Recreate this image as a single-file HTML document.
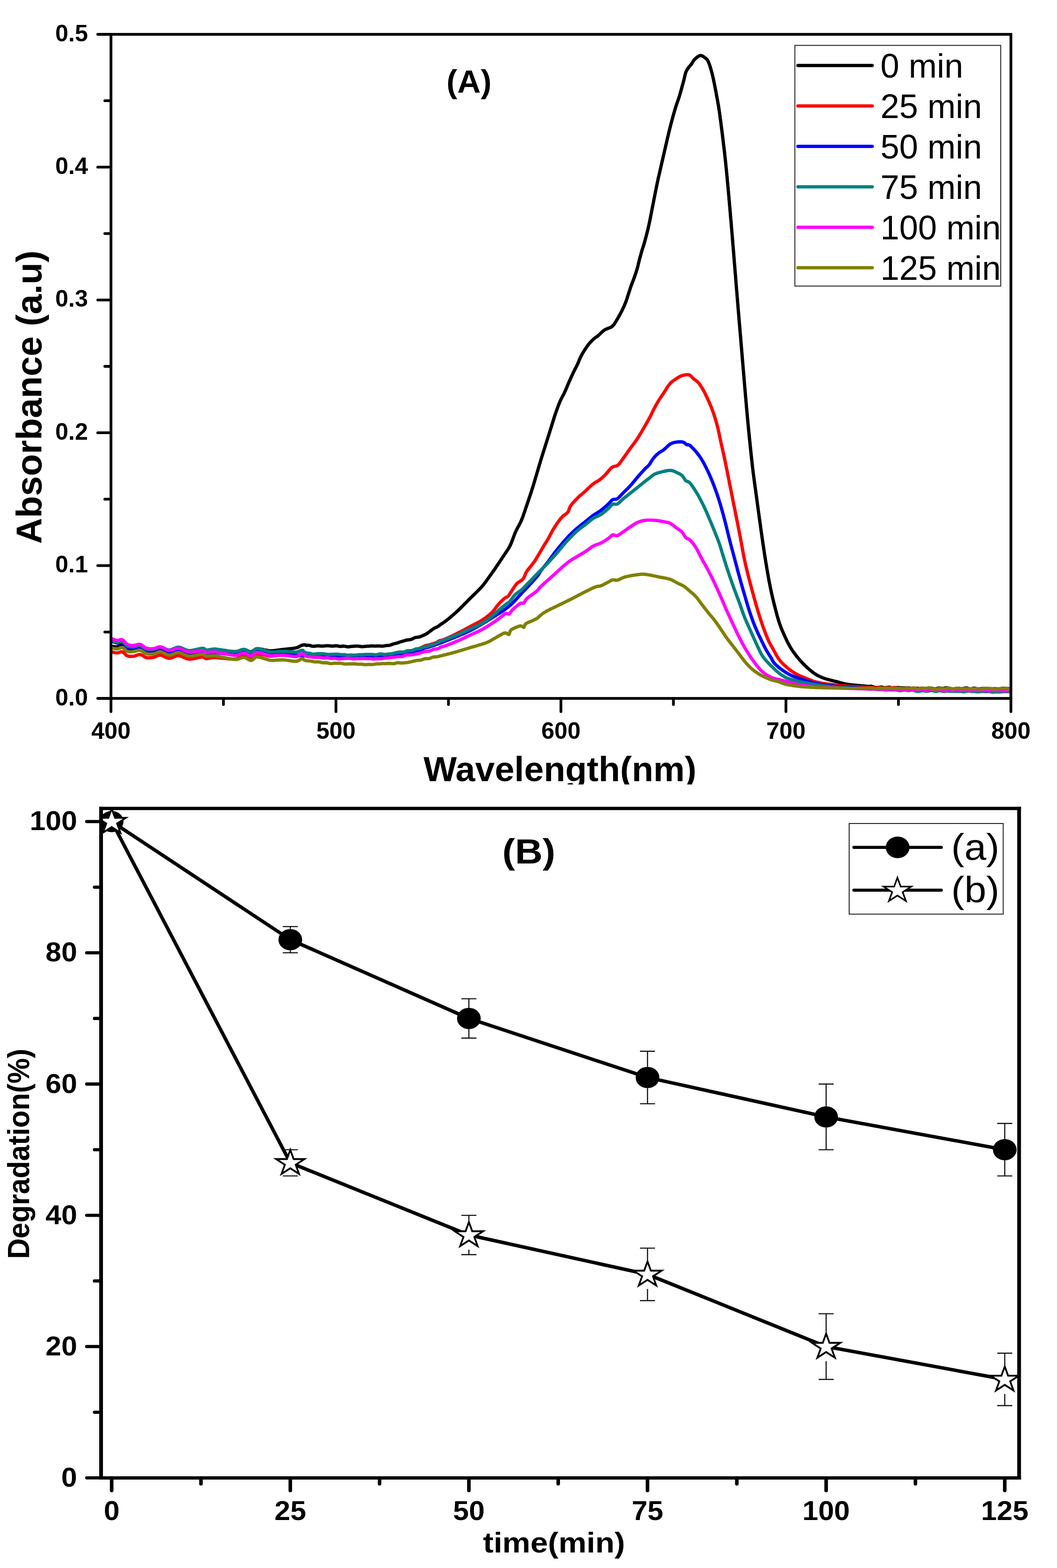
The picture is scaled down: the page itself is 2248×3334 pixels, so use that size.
<!DOCTYPE html><html><head><meta charset="utf-8"><style>html,body{margin:0;padding:0;background:#fff;}svg{display:block;}</style></head><body>
<svg width="2248" height="3334" viewBox="0 0 2248 3334" font-family="'Liberation Sans', Arial, sans-serif">
<rect width="2248" height="3334" fill="#fff"/>
<defs><clipPath id="ca"><rect x="236.0" y="73.0" width="1914.0" height="1412.0"/></clipPath>
<clipPath id="cb"><rect x="215.0" y="1719.0" width="1952.4" height="1423.5"/></clipPath>
<clipPath id="cxl"><rect x="0" y="1590" width="2248" height="78"/></clipPath></defs>
<g clip-path="url(#ca)" fill="none" stroke-width="7" stroke-linejoin="round" stroke-linecap="round">
<path stroke="#000000" d="M236.0,1374.3 L237.8,1374.5 L240.4,1374.8 L243.3,1375.1 L246.3,1375.2 L249.0,1375.2 L251.9,1374.4 L254.6,1373.2 L257.3,1372.2 L260.0,1372.1 L262.2,1372.9 L264.3,1374.5 L266.5,1376.2 L268.7,1377.9 L271.0,1379.1 L273.5,1379.7 L276.0,1380.0 L278.6,1380.1 L281.3,1380.0 L284.0,1379.8 L286.7,1379.3 L289.5,1378.5 L292.4,1377.6 L295.2,1377.0 L298.0,1376.9 L300.8,1377.5 L303.5,1378.7 L306.3,1380.0 L309.1,1381.3 L312.0,1382.0 L314.6,1382.2 L317.3,1382.1 L320.1,1381.9 L322.8,1381.6 L325.5,1381.1 L328.0,1380.7 L330.7,1380.0 L333.1,1379.0 L335.5,1378.0 L338.1,1377.2 L341.0,1377.0 L343.4,1377.4 L346.0,1378.2 L348.7,1379.2 L351.5,1380.3 L354.3,1381.4 L357.2,1382.1 L360.0,1382.5 L362.4,1382.3 L364.9,1381.8 L367.3,1381.0 L369.8,1380.2 L372.3,1379.3 L374.8,1378.6 L377.4,1378.1 L380.0,1377.9 L382.3,1378.2 L384.6,1378.7 L386.9,1379.5 L389.3,1380.3 L391.6,1381.2 L394.1,1382.1 L396.6,1382.9 L399.2,1383.5 L402.0,1383.7 L404.5,1383.7 L407.1,1383.6 L410.0,1383.2 L413.0,1382.8 L415.9,1382.3 L418.9,1381.8 L421.8,1381.3 L424.5,1380.9 L427.0,1380.5 L429.2,1380.2 L431.0,1380.1 L434.6,1380.8 L435.7,1382.2 L438.0,1383.1 L440.3,1383.0 L443.1,1382.8 L446.1,1382.4 L449.3,1382.0 L452.3,1381.7 L455.0,1381.5 L457.6,1381.5 L459.6,1381.7 L461.6,1381.9 L464.2,1382.2 L468.0,1382.6 L470.0,1382.9 L472.4,1383.1 L475.0,1383.5 L477.7,1383.8 L480.6,1384.2 L483.6,1384.6 L486.6,1384.9 L489.6,1385.2 L492.5,1385.5 L495.2,1385.7 L497.7,1385.8 L500.0,1385.8 L503.4,1385.5 L506.5,1384.8 L509.3,1384.0 L511.8,1383.1 L514.2,1382.2 L516.6,1381.6 L519.0,1381.4 L521.8,1381.7 L524.4,1382.6 L526.9,1383.8 L529.4,1384.9 L531.7,1385.7 L534.0,1385.9 L536.5,1385.1 L538.7,1383.6 L540.9,1381.9 L543.3,1380.3 L546.0,1379.4 L548.3,1379.3 L550.9,1379.5 L553.6,1379.9 L556.3,1380.5 L559.0,1381.0 L561.6,1381.6 L564.0,1382.0 L566.7,1382.5 L569.0,1383.0 L571.2,1383.4 L573.7,1383.7 L577.0,1383.7 L579.0,1383.7 L581.2,1383.5 L583.5,1383.3 L586.0,1383.0 L588.6,1382.7 L591.2,1382.3 L593.9,1382.0 L596.6,1381.6 L599.3,1381.3 L602.0,1381.0 L604.5,1380.7 L607.1,1380.4 L609.8,1380.1 L612.5,1379.9 L615.2,1379.6 L617.9,1379.3 L620.6,1379.0 L623.2,1378.7 L625.6,1378.3 L627.9,1377.9 L630.0,1377.5 L633.2,1376.5 L635.7,1375.3 L637.9,1374.0 L640.1,1372.8 L642.5,1371.8 L645.5,1371.2 L647.5,1371.1 L649.6,1371.2 L651.6,1372.4 L653.8,1372.1 L656.0,1372.0 L658.5,1372.4 L661.2,1373.2 L664.1,1374.1 L667.4,1374.3 L671.0,1373.8 L673.0,1373.5 L675.1,1373.3 L677.3,1373.3 L679.6,1373.5 L682.0,1373.7 L684.4,1373.8 L687.0,1373.7 L689.6,1373.6 L692.2,1373.3 L694.9,1373.1 L697.6,1373.0 L700.4,1373.2 L703.1,1373.5 L705.9,1373.8 L708.7,1373.8 L711.4,1373.4 L714.1,1373.1 L716.8,1373.2 L719.4,1373.8 L722.0,1374.2 L724.5,1374.4 L727.1,1374.1 L729.6,1373.8 L732.2,1373.9 L734.7,1374.4 L737.3,1375.0 L739.8,1375.3 L742.4,1375.2 L744.9,1374.8 L747.5,1374.4 L750.0,1374.2 L752.6,1374.1 L755.1,1374.0 L757.7,1373.8 L760.2,1373.7 L762.8,1373.9 L765.3,1374.3 L767.9,1374.8 L770.4,1375.0 L773.0,1374.8 L775.6,1374.5 L778.2,1374.3 L780.8,1374.1 L783.4,1374.0 L786.1,1373.8 L788.7,1373.5 L791.4,1373.4 L794.1,1373.5 L796.7,1373.7 L799.4,1373.7 L802.0,1373.6 L804.6,1373.5 L807.2,1373.5 L809.7,1373.7 L812.2,1373.9 L814.7,1373.8 L817.1,1373.4 L819.5,1373.0 L821.8,1372.6 L824.1,1372.4 L827.0,1372.2 L829.8,1371.7 L832.6,1370.8 L835.2,1369.7 L837.8,1368.9 L840.3,1368.3 L842.8,1367.7 L845.3,1367.1 L847.7,1366.2 L850.1,1365.3 L852.5,1364.5 L854.9,1363.8 L857.3,1363.2 L859.8,1362.5 L862.3,1361.7 L864.9,1361.0 L867.5,1360.6 L870.1,1360.4 L872.7,1360.0 L875.4,1359.2 L878.0,1357.9 L880.7,1356.5 L883.3,1355.5 L885.9,1355.1 L888.4,1354.9 L890.9,1354.6 L893.3,1353.9 L895.6,1353.0 L897.9,1352.1 L900.0,1351.1 L902.7,1350.0 L905.3,1348.7 L907.7,1347.3 L910.0,1345.8 L912.2,1344.1 L914.3,1342.5 L916.4,1340.9 L918.5,1339.3 L920.6,1337.7 L922.7,1336.3 L924.9,1335.1 L927.2,1334.1 L929.4,1333.1 L931.7,1331.9 L933.9,1330.4 L936.2,1328.6 L938.4,1326.6 L940.7,1325.6 L942.9,1324.0 L945.2,1322.4 L947.4,1320.8 L949.7,1319.1 L951.6,1317.6 L953.5,1316.1 L955.4,1314.5 L957.4,1313.0 L959.3,1311.3 L961.2,1309.7 L963.1,1308.0 L965.0,1306.3 L966.9,1304.6 L968.9,1302.9 L970.8,1301.1 L972.7,1299.4 L974.6,1297.6 L976.4,1295.9 L978.2,1294.2 L979.9,1292.5 L981.7,1290.7 L983.5,1289.0 L985.3,1287.2 L987.0,1285.4 L988.8,1283.5 L990.6,1281.7 L992.4,1279.9 L994.2,1278.1 L995.9,1276.3 L997.7,1274.5 L999.5,1272.7 L1001.3,1270.9 L1003.1,1269.2 L1004.9,1267.4 L1006.8,1265.6 L1008.6,1263.9 L1010.4,1262.1 L1012.3,1260.4 L1014.1,1258.6 L1015.9,1256.8 L1017.7,1255.0 L1019.4,1253.2 L1021.1,1251.4 L1022.8,1249.6 L1024.4,1247.8 L1026.1,1245.8 L1027.8,1243.8 L1029.4,1241.7 L1031.1,1239.6 L1032.6,1237.5 L1034.2,1235.4 L1035.7,1233.3 L1037.2,1231.2 L1038.7,1229.1 L1040.2,1227.1 L1041.6,1225.1 L1042.9,1223.2 L1044.3,1221.3 L1046.0,1218.9 L1047.6,1216.6 L1049.2,1214.4 L1050.7,1212.2 L1052.2,1210.1 L1053.6,1208.0 L1055.0,1205.9 L1056.4,1203.8 L1057.8,1201.8 L1059.2,1199.7 L1060.7,1197.4 L1062.3,1195.2 L1063.8,1192.9 L1065.2,1190.7 L1066.7,1188.5 L1068.1,1186.4 L1069.5,1184.2 L1071.0,1182.0 L1072.4,1179.8 L1073.8,1177.7 L1075.2,1175.6 L1076.7,1173.6 L1078.1,1171.5 L1079.5,1169.5 L1080.8,1167.3 L1082.2,1165.1 L1083.6,1162.7 L1084.9,1160.1 L1085.9,1158.0 L1086.8,1155.8 L1087.8,1153.5 L1088.7,1151.1 L1089.6,1148.7 L1090.6,1146.2 L1091.5,1143.6 L1092.4,1141.1 L1093.4,1138.6 L1094.3,1136.1 L1095.3,1133.7 L1096.3,1131.4 L1097.4,1128.9 L1098.6,1126.6 L1099.8,1124.3 L1101.0,1122.0 L1102.2,1119.7 L1103.5,1117.4 L1104.7,1115.1 L1105.9,1112.7 L1107.1,1110.3 L1108.3,1107.8 L1109.4,1105.2 L1110.3,1102.9 L1111.3,1100.5 L1112.2,1098.1 L1113.1,1095.7 L1113.9,1093.2 L1114.8,1090.6 L1115.7,1088.1 L1116.6,1085.5 L1117.4,1082.9 L1118.3,1080.3 L1119.2,1077.7 L1120.0,1075.1 L1120.9,1072.5 L1121.7,1070.1 L1122.5,1067.7 L1123.4,1065.2 L1124.2,1062.8 L1125.0,1060.3 L1125.9,1057.8 L1126.7,1055.4 L1127.5,1052.9 L1128.4,1050.4 L1129.2,1047.9 L1130.0,1045.5 L1130.8,1043.0 L1131.5,1040.6 L1132.3,1038.2 L1133.1,1035.6 L1133.9,1033.1 L1134.7,1030.5 L1135.4,1028.0 L1136.2,1025.5 L1136.9,1023.0 L1137.7,1020.5 L1138.4,1018.0 L1139.1,1015.5 L1139.9,1013.0 L1140.6,1010.5 L1141.4,1008.0 L1142.1,1005.5 L1142.9,1003.0 L1143.6,1000.5 L1144.4,997.9 L1145.1,995.4 L1145.9,992.8 L1146.6,990.3 L1147.4,987.8 L1148.1,985.3 L1148.9,982.7 L1149.6,980.2 L1150.4,977.7 L1151.1,975.3 L1151.9,972.8 L1152.7,970.4 L1153.4,967.9 L1154.2,965.5 L1154.9,963.1 L1155.7,960.8 L1156.4,958.4 L1157.2,956.0 L1157.9,953.7 L1158.7,951.3 L1159.4,948.9 L1160.2,946.6 L1160.9,944.2 L1161.7,941.8 L1162.5,939.4 L1163.2,937.0 L1164.0,934.6 L1164.7,932.2 L1165.5,929.8 L1166.2,927.4 L1167.0,925.1 L1167.7,922.7 L1168.5,920.3 L1169.2,917.9 L1170.0,915.5 L1170.7,913.1 L1171.5,910.7 L1172.3,908.3 L1173.0,905.9 L1173.8,903.4 L1174.5,901.0 L1175.3,898.6 L1176.0,896.1 L1176.8,893.7 L1177.5,891.3 L1178.3,888.9 L1179.0,886.5 L1179.8,884.2 L1180.5,881.9 L1181.3,879.7 L1182.2,877.1 L1183.1,874.6 L1184.0,872.0 L1184.9,869.5 L1185.8,867.1 L1186.6,864.7 L1187.5,862.3 L1188.4,860.0 L1189.3,857.8 L1190.2,855.6 L1191.1,853.5 L1192.3,850.8 L1193.5,848.2 L1194.8,845.8 L1196.0,843.5 L1197.2,841.2 L1198.5,838.9 L1199.7,836.5 L1200.9,833.9 L1202.0,831.5 L1203.1,829.0 L1204.2,826.5 L1205.3,823.9 L1206.3,821.3 L1207.4,818.7 L1208.5,816.1 L1209.6,813.6 L1210.7,811.1 L1211.8,808.6 L1212.9,806.1 L1214.1,803.6 L1215.2,801.2 L1216.3,798.7 L1217.4,796.4 L1218.5,794.1 L1219.5,791.9 L1220.5,789.8 L1221.9,787.0 L1223.1,784.6 L1224.3,782.3 L1225.5,780.0 L1226.7,777.7 L1228.0,775.0 L1229.0,772.8 L1230.0,770.5 L1231.0,768.1 L1232.0,765.7 L1233.1,763.2 L1234.2,760.6 L1235.4,758.1 L1236.7,755.6 L1237.9,753.3 L1239.3,751.0 L1240.7,748.6 L1242.1,746.3 L1243.6,743.9 L1245.1,741.6 L1246.6,739.3 L1248.1,737.2 L1249.5,735.2 L1251.3,732.8 L1253.2,730.5 L1255.1,728.4 L1256.9,726.4 L1258.8,724.6 L1260.5,722.8 L1262.2,721.2 L1264.4,719.3 L1266.3,717.8 L1268.3,716.6 L1270.2,715.2 L1272.4,713.5 L1274.3,711.8 L1276.3,709.8 L1278.4,707.8 L1280.5,705.7 L1282.8,703.8 L1285.2,702.0 L1287.4,700.7 L1289.9,699.6 L1292.5,698.6 L1295.1,697.6 L1297.6,696.6 L1299.9,695.4 L1302.0,693.9 L1303.8,692.2 L1305.4,690.4 L1306.8,688.4 L1308.2,686.3 L1309.5,684.2 L1310.8,681.9 L1312.2,679.6 L1313.5,677.5 L1314.8,675.3 L1316.1,673.0 L1317.4,670.7 L1318.7,668.3 L1320.0,665.9 L1321.2,663.5 L1322.4,661.2 L1323.5,658.9 L1324.6,656.6 L1325.7,654.3 L1326.8,652.1 L1327.8,649.8 L1328.7,647.5 L1329.7,645.2 L1330.6,642.9 L1331.6,640.3 L1332.5,637.7 L1333.4,635.0 L1334.2,632.4 L1335.0,629.8 L1335.8,627.1 L1336.7,624.5 L1337.6,621.9 L1338.5,619.2 L1339.4,616.5 L1340.2,613.8 L1341.1,611.2 L1342.0,608.6 L1342.9,606.1 L1343.9,603.3 L1344.9,600.6 L1346.0,598.0 L1347.0,595.3 L1348.0,592.6 L1349.0,589.8 L1349.9,587.3 L1350.8,584.8 L1351.7,582.2 L1352.6,579.5 L1353.4,576.9 L1354.3,574.2 L1355.1,571.4 L1355.8,568.9 L1356.4,566.4 L1357.1,563.8 L1357.7,561.2 L1358.3,558.6 L1358.9,556.0 L1359.6,553.5 L1360.2,551.0 L1360.9,548.3 L1361.6,545.6 L1362.4,543.0 L1363.1,540.4 L1363.8,537.8 L1364.6,535.3 L1365.3,532.7 L1366.0,530.3 L1366.7,528.1 L1367.4,526.0 L1368.2,523.8 L1369.0,521.4 L1369.8,518.5 L1370.8,515.0 L1371.3,513.0 L1371.9,510.9 L1372.5,508.7 L1373.1,506.3 L1373.8,503.9 L1374.5,501.4 L1375.1,498.8 L1375.8,496.1 L1376.5,493.4 L1377.2,490.6 L1377.9,487.7 L1378.6,484.9 L1379.2,482.0 L1379.9,479.1 L1380.4,476.8 L1380.9,474.5 L1381.4,472.1 L1381.9,469.7 L1382.4,467.2 L1382.9,464.7 L1383.4,462.2 L1383.9,459.6 L1384.4,457.1 L1384.9,454.5 L1385.4,451.9 L1385.9,449.3 L1386.4,446.7 L1386.9,444.1 L1387.4,441.5 L1387.9,439.0 L1388.4,436.4 L1388.9,433.9 L1389.4,431.4 L1389.9,428.9 L1390.4,426.3 L1390.9,423.8 L1391.4,421.2 L1391.9,418.7 L1392.4,416.1 L1392.9,413.6 L1393.4,411.0 L1393.9,408.5 L1394.4,405.9 L1394.9,403.4 L1395.4,400.9 L1395.9,398.5 L1396.4,396.0 L1396.9,393.6 L1397.4,391.2 L1397.9,388.8 L1398.5,386.2 L1399.0,383.6 L1399.6,381.0 L1400.1,378.5 L1400.7,376.0 L1401.3,373.5 L1401.8,371.1 L1402.4,368.6 L1403.0,366.2 L1403.5,363.8 L1404.1,361.3 L1404.6,358.9 L1405.2,356.5 L1405.8,354.0 L1406.3,351.6 L1406.9,349.1 L1407.5,346.6 L1408.0,344.1 L1408.6,341.6 L1409.2,339.1 L1409.7,336.6 L1410.3,334.1 L1410.9,331.6 L1411.5,329.1 L1412.0,326.6 L1412.6,324.2 L1413.2,321.7 L1413.7,319.2 L1414.3,316.7 L1414.9,314.3 L1415.4,311.8 L1416.0,309.4 L1416.6,306.8 L1417.2,304.3 L1417.8,301.7 L1418.4,299.2 L1418.9,296.7 L1419.5,294.2 L1420.1,291.7 L1420.7,289.2 L1421.3,286.7 L1421.9,284.2 L1422.5,281.7 L1423.1,279.2 L1423.7,276.6 L1424.3,274.1 L1425.0,271.5 L1425.6,269.0 L1426.3,266.5 L1426.9,264.0 L1427.6,261.4 L1428.3,258.8 L1429.0,256.2 L1429.7,253.6 L1430.4,251.0 L1431.1,248.4 L1431.8,245.8 L1432.5,243.3 L1433.2,240.9 L1433.9,238.5 L1434.5,236.2 L1435.2,233.9 L1435.8,231.8 L1436.7,228.9 L1437.5,226.2 L1438.4,223.6 L1439.2,221.2 L1440.0,218.9 L1440.8,216.7 L1441.6,214.4 L1442.4,212.1 L1443.2,209.8 L1444.0,207.3 L1444.8,204.7 L1445.5,202.3 L1446.2,199.9 L1447.0,197.3 L1447.7,194.6 L1448.5,191.9 L1449.3,189.2 L1450.0,186.5 L1450.7,183.9 L1451.4,181.3 L1452.1,178.8 L1452.8,176.5 L1453.4,174.2 L1453.9,172.2 L1454.8,168.8 L1455.5,165.8 L1456.1,163.1 L1456.6,160.6 L1457.2,158.3 L1457.8,156.2 L1458.4,154.2 L1459.7,151.1 L1461.0,148.5 L1462.4,146.3 L1463.8,144.2 L1465.8,141.7 L1467.9,139.6 L1470.1,137.0 L1471.4,135.0 L1472.7,132.8 L1474.0,130.5 L1475.6,128.2 L1477.3,126.2 L1479.4,124.2 L1481.8,122.2 L1484.3,120.3 L1486.8,118.9 L1489.1,118.1 L1491.8,118.3 L1494.3,119.3 L1496.8,120.9 L1499.0,122.6 L1501.0,124.1 L1502.8,125.6 L1504.5,127.6 L1506.2,130.7 L1507.0,132.5 L1507.8,134.6 L1508.7,136.8 L1509.5,139.3 L1510.3,141.8 L1511.1,144.5 L1511.9,147.1 L1512.7,149.7 L1513.4,152.3 L1514.1,154.8 L1514.7,157.3 L1515.3,159.8 L1515.9,162.3 L1516.5,164.9 L1517.1,167.5 L1517.6,170.2 L1518.2,172.9 L1518.8,175.8 L1519.3,178.2 L1519.8,180.8 L1520.3,183.4 L1520.8,186.1 L1521.3,188.8 L1521.9,191.5 L1522.4,194.2 L1522.9,196.9 L1523.4,199.6 L1523.8,202.2 L1524.3,204.7 L1524.8,207.3 L1525.3,209.9 L1525.7,212.3 L1526.2,214.7 L1526.6,217.1 L1527.0,219.5 L1527.5,222.0 L1527.9,224.5 L1528.4,227.2 L1528.8,230.0 L1529.1,232.2 L1529.5,234.5 L1529.8,236.8 L1530.2,239.1 L1530.5,241.5 L1530.8,243.9 L1531.2,246.4 L1531.5,248.9 L1531.8,251.5 L1532.2,254.1 L1532.6,256.8 L1532.9,259.6 L1533.3,262.5 L1533.6,264.8 L1533.9,267.1 L1534.2,269.5 L1534.5,272.0 L1534.8,274.6 L1535.2,277.1 L1535.5,279.7 L1535.8,282.4 L1536.2,285.0 L1536.5,287.7 L1536.8,290.3 L1537.2,293.0 L1537.5,295.6 L1537.8,298.2 L1538.1,300.8 L1538.4,303.3 L1538.7,305.8 L1539.0,308.5 L1539.3,311.2 L1539.7,313.9 L1540.0,316.5 L1540.3,319.0 L1540.6,321.6 L1540.9,324.1 L1541.1,326.7 L1541.4,329.3 L1541.7,331.9 L1542.0,334.5 L1542.3,337.2 L1542.6,339.9 L1542.9,342.7 L1543.2,345.5 L1543.5,347.9 L1543.7,350.4 L1544.0,352.9 L1544.2,355.4 L1544.5,357.9 L1544.7,360.5 L1545.0,363.0 L1545.2,365.6 L1545.5,368.3 L1545.8,370.9 L1546.0,373.6 L1546.3,376.2 L1546.5,378.9 L1546.8,381.6 L1547.0,384.3 L1547.3,387.0 L1547.5,389.7 L1547.8,392.4 L1548.0,394.8 L1548.3,397.3 L1548.5,399.8 L1548.7,402.3 L1548.9,404.8 L1549.2,407.3 L1549.4,409.8 L1549.6,412.4 L1549.8,414.9 L1550.1,417.5 L1550.3,420.0 L1550.5,422.6 L1550.7,425.2 L1551.0,427.7 L1551.2,430.3 L1551.4,432.8 L1551.6,435.4 L1551.9,437.9 L1552.1,440.5 L1552.3,443.0 L1552.5,445.5 L1552.7,448.0 L1553.0,450.6 L1553.2,453.1 L1553.4,455.6 L1553.6,458.1 L1553.8,460.6 L1554.0,463.1 L1554.2,465.6 L1554.5,468.1 L1554.7,470.6 L1554.9,473.2 L1555.1,475.7 L1555.3,478.2 L1555.5,480.7 L1555.7,483.3 L1556.0,485.8 L1556.2,488.4 L1556.4,490.9 L1556.6,493.5 L1556.8,496.0 L1557.0,498.4 L1557.2,500.9 L1557.4,503.4 L1557.6,505.8 L1557.8,508.3 L1558.0,510.8 L1558.2,513.3 L1558.4,515.8 L1558.6,518.3 L1558.8,520.8 L1559.1,523.3 L1559.3,525.8 L1559.5,528.3 L1559.7,530.8 L1559.9,533.4 L1560.1,535.9 L1560.3,538.4 L1560.5,540.9 L1560.7,543.5 L1560.9,546.0 L1561.1,548.5 L1561.3,551.1 L1561.5,553.7 L1561.7,556.3 L1561.9,558.8 L1562.2,561.4 L1562.4,564.0 L1562.6,566.6 L1562.8,569.2 L1563.0,571.9 L1563.2,574.5 L1563.4,577.1 L1563.6,579.7 L1563.9,582.2 L1564.1,584.8 L1564.3,587.4 L1564.5,589.9 L1564.7,592.5 L1564.9,595.0 L1565.1,597.5 L1565.3,600.0 L1565.5,602.6 L1565.7,605.2 L1565.9,607.7 L1566.1,610.3 L1566.3,612.8 L1566.5,615.3 L1566.8,617.8 L1567.0,620.3 L1567.2,622.8 L1567.4,625.2 L1567.6,627.7 L1567.8,630.2 L1568.0,632.7 L1568.2,635.1 L1568.4,637.6 L1568.6,640.1 L1568.8,642.5 L1569.0,645.0 L1569.2,647.5 L1569.4,650.0 L1569.6,652.5 L1569.8,655.0 L1570.0,657.5 L1570.2,660.0 L1570.4,662.5 L1570.7,665.0 L1570.9,667.5 L1571.1,670.0 L1571.3,672.5 L1571.5,675.0 L1571.7,677.5 L1571.9,680.0 L1572.1,682.5 L1572.3,685.0 L1572.5,687.5 L1572.8,690.0 L1573.0,692.5 L1573.2,695.0 L1573.4,697.5 L1573.6,700.0 L1573.8,702.5 L1574.0,705.0 L1574.2,707.5 L1574.4,710.0 L1574.6,712.5 L1574.9,715.0 L1575.1,717.5 L1575.3,720.0 L1575.5,722.5 L1575.7,725.0 L1575.9,727.5 L1576.1,730.0 L1576.3,732.5 L1576.5,735.0 L1576.7,737.5 L1577.0,740.0 L1577.2,742.5 L1577.4,745.0 L1577.6,747.5 L1577.8,750.0 L1578.0,752.5 L1578.2,755.0 L1578.4,757.5 L1578.6,760.0 L1578.8,762.5 L1579.1,765.0 L1579.3,767.5 L1579.5,770.0 L1579.7,772.5 L1579.9,775.0 L1580.1,777.5 L1580.3,780.0 L1580.5,782.5 L1580.7,785.0 L1580.9,787.5 L1581.2,790.0 L1581.4,792.5 L1581.6,795.0 L1581.8,797.5 L1582.0,800.0 L1582.2,802.5 L1582.4,805.0 L1582.6,807.5 L1582.9,810.0 L1583.1,812.5 L1583.3,815.0 L1583.5,817.5 L1583.7,820.0 L1583.9,822.5 L1584.1,825.0 L1584.3,827.5 L1584.6,830.0 L1584.8,832.5 L1585.0,835.0 L1585.2,837.5 L1585.4,840.0 L1585.6,842.5 L1585.9,845.0 L1586.1,847.5 L1586.3,850.0 L1586.5,852.5 L1586.7,855.0 L1587.0,857.5 L1587.2,860.0 L1587.4,862.5 L1587.6,865.0 L1587.8,867.5 L1588.1,870.0 L1588.3,872.5 L1588.5,875.0 L1588.7,877.5 L1589.0,880.0 L1589.2,882.5 L1589.4,885.0 L1589.6,887.5 L1589.9,890.0 L1590.1,892.5 L1590.3,895.0 L1590.6,897.5 L1590.8,900.0 L1591.0,902.5 L1591.3,905.0 L1591.5,907.5 L1591.8,910.0 L1592.0,912.5 L1592.2,915.0 L1592.5,917.5 L1592.7,920.0 L1593.0,922.5 L1593.2,925.0 L1593.5,927.5 L1593.7,930.0 L1594.0,932.5 L1594.2,935.0 L1594.5,937.5 L1594.8,940.0 L1595.0,942.5 L1595.3,945.0 L1595.5,947.5 L1595.8,950.0 L1596.1,952.5 L1596.3,955.0 L1596.6,957.5 L1596.8,960.0 L1597.1,962.5 L1597.4,965.0 L1597.6,967.5 L1597.9,970.0 L1598.2,972.5 L1598.4,975.0 L1598.7,977.5 L1599.0,980.0 L1599.3,982.5 L1599.5,985.0 L1599.8,987.5 L1600.1,990.0 L1600.4,992.5 L1600.7,995.0 L1601.0,997.5 L1601.3,1000.0 L1601.6,1002.5 L1601.9,1005.0 L1602.2,1007.5 L1602.6,1010.0 L1602.9,1012.5 L1603.2,1015.0 L1603.6,1017.5 L1603.9,1020.0 L1604.2,1022.5 L1604.6,1025.0 L1604.9,1027.5 L1605.3,1030.0 L1605.6,1032.5 L1605.9,1035.0 L1606.3,1037.5 L1606.6,1040.0 L1607.0,1042.5 L1607.3,1045.0 L1607.7,1047.5 L1608.0,1050.0 L1608.3,1052.5 L1608.7,1055.0 L1609.0,1057.5 L1609.4,1060.0 L1609.7,1062.5 L1610.0,1065.0 L1610.4,1067.5 L1610.7,1070.0 L1611.0,1072.5 L1611.4,1075.0 L1611.7,1077.5 L1612.1,1080.0 L1612.4,1082.5 L1612.7,1085.0 L1613.1,1087.5 L1613.4,1090.0 L1613.8,1092.5 L1614.1,1095.0 L1614.5,1097.5 L1614.8,1100.0 L1615.1,1102.5 L1615.5,1105.0 L1615.8,1107.6 L1616.2,1110.2 L1616.6,1112.7 L1616.9,1115.3 L1617.3,1117.9 L1617.6,1120.5 L1618.0,1123.1 L1618.3,1125.6 L1618.7,1128.2 L1619.1,1130.7 L1619.4,1133.2 L1619.8,1135.7 L1620.1,1138.2 L1620.5,1140.6 L1620.8,1143.0 L1621.1,1145.4 L1621.5,1147.7 L1621.8,1150.0 L1622.2,1152.8 L1622.6,1155.5 L1623.0,1158.2 L1623.4,1160.8 L1623.8,1163.3 L1624.1,1165.8 L1624.5,1168.3 L1624.9,1170.8 L1625.3,1173.2 L1625.6,1175.6 L1626.0,1178.0 L1626.4,1180.4 L1626.8,1182.8 L1627.1,1185.2 L1627.5,1187.6 L1627.9,1190.0 L1628.3,1192.6 L1628.7,1195.2 L1629.1,1197.7 L1629.6,1200.3 L1630.0,1202.9 L1630.4,1205.4 L1630.8,1207.9 L1631.2,1210.4 L1631.7,1212.9 L1632.1,1215.4 L1632.5,1217.9 L1632.9,1220.3 L1633.4,1222.7 L1633.8,1225.1 L1634.2,1227.4 L1634.7,1230.0 L1635.2,1232.6 L1635.6,1235.2 L1636.1,1237.7 L1636.6,1240.2 L1637.1,1242.6 L1637.6,1245.0 L1638.0,1247.5 L1638.5,1249.9 L1639.0,1252.3 L1639.5,1254.7 L1640.1,1257.1 L1640.6,1259.6 L1641.1,1262.1 L1641.7,1264.6 L1642.3,1267.0 L1642.8,1269.5 L1643.4,1272.0 L1644.0,1274.5 L1644.6,1276.9 L1645.2,1279.4 L1645.8,1281.9 L1646.4,1284.4 L1647.0,1286.8 L1647.7,1289.3 L1648.3,1291.8 L1649.0,1294.3 L1649.6,1296.8 L1650.3,1299.4 L1651.0,1301.9 L1651.6,1304.5 L1652.3,1307.1 L1653.0,1309.6 L1653.7,1312.1 L1654.5,1314.6 L1655.2,1317.1 L1655.9,1319.5 L1656.7,1321.8 L1657.4,1324.1 L1658.3,1326.7 L1659.2,1329.2 L1660.1,1331.6 L1660.9,1334.0 L1661.9,1336.3 L1662.8,1338.5 L1663.7,1340.8 L1664.7,1343.0 L1665.7,1345.3 L1666.7,1347.6 L1667.7,1349.9 L1668.8,1352.3 L1669.9,1354.6 L1671.0,1357.0 L1672.1,1359.4 L1673.2,1361.8 L1674.4,1364.2 L1675.6,1366.6 L1676.8,1368.9 L1678.1,1371.2 L1679.3,1373.5 L1680.6,1375.7 L1682.0,1378.1 L1683.5,1380.4 L1684.9,1382.6 L1686.4,1384.8 L1687.9,1387.0 L1689.5,1389.1 L1691.1,1391.2 L1692.7,1393.4 L1694.4,1395.5 L1696.1,1397.6 L1697.7,1399.5 L1699.4,1401.5 L1701.1,1403.4 L1702.8,1405.4 L1704.6,1407.3 L1706.4,1409.3 L1708.2,1411.1 L1710.0,1413.0 L1711.8,1414.8 L1713.6,1416.5 L1715.4,1418.2 L1717.5,1420.2 L1719.7,1422.1 L1721.8,1424.0 L1724.0,1425.8 L1726.1,1427.5 L1728.3,1429.2 L1730.4,1430.8 L1732.6,1432.3 L1734.7,1433.7 L1737.1,1435.2 L1739.4,1436.5 L1741.7,1437.6 L1744.0,1438.7 L1746.3,1439.8 L1748.8,1440.8 L1751.4,1441.7 L1754.1,1442.7 L1756.4,1443.5 L1758.9,1444.2 L1761.5,1444.9 L1764.1,1445.6 L1766.8,1446.3 L1769.6,1447.0 L1772.3,1447.6 L1774.9,1448.3 L1777.5,1448.9 L1780.0,1449.5 L1782.5,1450.2 L1784.9,1450.8 L1787.0,1451.5 L1789.1,1452.1 L1791.3,1452.7 L1793.7,1453.3 L1796.3,1453.9 L1799.3,1454.4 L1802.7,1455.0 L1804.7,1455.3 L1806.9,1455.6 L1809.2,1455.9 L1811.6,1456.2 L1814.1,1456.5 L1816.7,1456.7 L1819.3,1457.0 L1822.0,1457.3 L1824.7,1457.6 L1827.5,1457.8 L1830.3,1458.1 L1833.1,1458.4 L1835.9,1458.6 L1838.7,1458.8 L1841.4,1459.1 L1844.1,1459.3 L1846.7,1459.5 L1849.3,1459.7 L1851.8,1459.0 L1854.3,1459.6 L1856.7,1460.4 L1859.2,1461.1 L1861.6,1461.8 L1864.1,1462.2 L1866.5,1462.2 L1869.0,1461.8 L1871.5,1461.3 L1874.0,1461.0 L1876.6,1461.3 L1879.3,1461.9 L1882.0,1462.3 L1884.8,1462.1 L1887.7,1461.4 L1890.7,1461.1 L1892.9,1461.4 L1895.2,1462.2 L1897.4,1463.0 L1899.6,1463.4 L1901.8,1463.3 L1904.1,1462.9 L1906.3,1462.3 L1908.6,1462.0 L1910.9,1462.0 L1913.2,1462.3 L1915.6,1462.5 L1918.1,1462.6 L1920.6,1462.7 L1923.1,1462.7 L1925.8,1462.8 L1928.5,1462.9 L1931.2,1462.8 L1934.1,1462.9 L1937.1,1463.2 L1940.1,1463.6 L1943.3,1463.8 L1946.6,1463.6 L1950.0,1463.4 L1952.0,1463.6 L1954.1,1463.8 L1956.2,1464.1 L1958.3,1464.2 L1960.5,1464.1 L1962.8,1463.9 L1965.1,1463.7 L1967.4,1463.7 L1969.7,1463.9 L1972.1,1463.9 L1974.5,1463.7 L1976.9,1463.3 L1979.4,1463.2 L1981.9,1463.4 L1984.4,1464.1 L1987.0,1464.7 L1989.5,1464.7 L1992.1,1464.1 L1994.7,1463.3 L1997.3,1462.9 L2000.0,1463.1 L2002.6,1463.6 L2005.2,1463.8 L2007.9,1463.4 L2010.6,1462.8 L2013.2,1462.5 L2015.9,1462.9 L2018.6,1463.8 L2021.2,1464.7 L2023.9,1465.3 L2026.6,1465.4 L2029.2,1465.0 L2031.9,1464.5 L2034.5,1464.0 L2037.1,1463.7 L2039.7,1463.8 L2042.3,1464.2 L2044.9,1464.4 L2047.5,1464.3 L2050.0,1463.7 L2052.6,1463.0 L2055.2,1462.8 L2057.9,1463.3 L2060.6,1464.2 L2063.4,1464.8 L2066.2,1464.5 L2069.0,1463.7 L2071.9,1463.2 L2074.8,1463.6 L2077.8,1464.4 L2080.7,1464.9 L2083.7,1464.7 L2086.6,1464.2 L2089.6,1463.9 L2092.6,1464.0 L2095.6,1464.2 L2098.5,1464.3 L2101.4,1464.3 L2104.4,1464.4 L2107.2,1464.5 L2110.1,1464.4 L2112.9,1464.3 L2115.7,1464.3 L2118.4,1464.6 L2121.1,1465.0 L2123.8,1465.1 L2126.3,1464.8 L2128.8,1464.2 L2131.3,1463.7 L2133.6,1463.5 L2135.9,1463.6 L2138.1,1463.8 L2140.2,1464.0 L2142.2,1464.1 L2144.1,1464.2 L2145.9,1464.3 L2147.6,1464.5 L2149.2,1464.7 L2150.7,1465.0 L2152.0,1465.1"/>
<path stroke="#ff0000" d="M236.0,1385.7 L237.8,1386.1 L240.4,1386.8 L243.3,1387.6 L246.3,1388.1 L249.0,1388.4 L251.9,1387.9 L254.6,1386.8 L257.3,1385.9 L260.0,1385.9 L262.2,1387.0 L264.3,1389.0 L266.5,1391.2 L268.7,1393.2 L271.0,1394.6 L273.5,1395.3 L276.0,1395.7 L278.6,1395.8 L281.3,1395.6 L284.0,1395.4 L286.7,1394.8 L289.5,1393.7 L292.4,1392.6 L295.2,1391.8 L298.0,1391.7 L300.3,1392.3 L302.6,1393.4 L304.9,1394.9 L307.2,1396.4 L309.6,1397.7 L312.0,1398.5 L314.6,1398.8 L317.3,1398.8 L320.1,1398.6 L322.8,1398.2 L325.5,1397.8 L328.0,1397.3 L330.7,1396.4 L333.1,1395.2 L335.5,1394.0 L338.1,1393.0 L341.0,1392.8 L343.1,1393.2 L345.3,1394.0 L347.6,1395.1 L350.1,1396.3 L352.5,1397.5 L355.0,1398.5 L357.5,1399.3 L360.0,1399.7 L362.4,1399.5 L364.9,1398.8 L367.3,1397.9 L369.8,1396.8 L372.3,1395.8 L374.8,1394.8 L377.4,1394.2 L380.0,1394.0 L382.3,1394.4 L384.6,1395.0 L386.9,1396.0 L389.3,1397.1 L391.6,1398.2 L394.1,1399.3 L396.6,1400.3 L399.2,1401.0 L402.0,1401.4 L404.5,1401.4 L407.1,1401.1 L410.0,1400.8 L413.0,1400.2 L415.9,1399.6 L418.9,1399.0 L421.8,1398.4 L424.5,1397.8 L427.0,1397.3 L429.2,1397.0 L431.0,1396.8 L434.6,1397.6 L435.7,1399.4 L438.0,1400.4 L440.3,1400.3 L443.1,1399.9 L446.1,1399.4 L449.3,1398.8 L452.3,1398.3 L455.0,1398.0 L457.6,1398.0 L459.6,1398.2 L461.6,1398.5 L464.2,1398.8 L468.0,1399.1 L470.0,1399.3 L472.4,1399.5 L475.0,1399.8 L477.7,1400.1 L480.6,1400.3 L483.6,1400.6 L486.6,1400.9 L489.6,1401.1 L492.5,1401.3 L495.2,1401.3 L497.7,1401.3 L500.0,1401.2 L503.0,1400.7 L505.8,1399.9 L508.3,1398.9 L510.6,1397.8 L512.7,1396.7 L514.8,1395.8 L516.9,1395.1 L519.0,1394.8 L521.8,1395.1 L524.4,1396.1 L526.9,1397.4 L529.4,1398.7 L531.7,1399.6 L534.0,1399.7 L536.5,1398.6 L538.7,1396.6 L540.9,1394.2 L543.3,1392.1 L546.0,1390.8 L548.3,1390.5 L550.9,1390.6 L553.6,1391.0 L556.3,1391.5 L559.0,1392.1 L561.6,1392.6 L564.0,1393.0 L566.7,1393.5 L569.0,1394.1 L571.2,1394.7 L573.7,1395.1 L577.0,1395.2 L579.0,1395.1 L581.2,1394.8 L583.5,1394.5 L586.0,1394.1 L588.6,1393.7 L591.2,1393.3 L593.9,1392.9 L596.6,1392.6 L599.3,1392.3 L602.0,1392.2 L604.3,1392.2 L606.3,1392.2 L608.3,1392.4 L610.2,1392.5 L612.2,1392.7 L614.3,1393.0 L616.6,1393.2 L619.3,1393.4 L622.3,1393.7 L625.9,1393.8 L630.0,1394.0 L631.8,1394.1 L633.7,1394.1 L635.7,1394.2 L637.8,1394.2 L639.9,1394.3 L642.2,1394.3 L644.5,1394.4 L646.9,1394.4 L649.3,1394.5 L651.8,1393.8 L654.3,1394.3 L656.9,1394.8 L659.5,1395.1 L662.2,1395.0 L664.9,1394.8 L667.6,1394.6 L670.3,1394.5 L673.1,1394.5 L675.8,1394.3 L678.6,1394.2 L681.3,1394.3 L684.0,1394.5 L686.8,1394.8 L689.5,1394.9 L692.2,1394.8 L694.8,1394.9 L697.4,1395.2 L700.0,1395.6 L702.5,1395.9 L705.0,1395.8 L707.5,1395.6 L710.1,1395.4 L712.7,1395.5 L715.3,1395.6 L717.9,1395.7 L720.5,1395.4 L723.2,1394.9 L725.8,1394.5 L728.5,1394.4 L731.1,1394.5 L733.7,1394.5 L736.4,1394.4 L739.0,1394.1 L741.6,1394.0 L744.2,1394.0 L746.8,1394.1 L749.3,1394.1 L751.9,1394.0 L754.4,1394.0 L756.8,1394.3 L759.3,1394.7 L761.7,1395.0 L764.0,1394.8 L766.3,1394.3 L768.6,1393.7 L770.8,1393.2 L773.0,1393.2 L776.0,1393.7 L779.0,1394.3 L781.8,1394.6 L784.6,1394.5 L787.3,1394.3 L789.9,1394.2 L792.5,1394.2 L795.0,1394.2 L797.4,1393.9 L799.9,1393.6 L802.3,1393.2 L804.7,1392.9 L807.0,1392.5 L809.4,1392.3 L811.8,1392.1 L814.2,1392.2 L816.6,1392.5 L819.0,1392.8 L821.5,1392.8 L824.0,1392.3 L826.6,1391.5 L829.2,1390.8 L831.8,1390.7 L834.5,1390.9 L837.1,1391.2 L839.8,1390.8 L842.5,1389.9 L845.2,1388.8 L847.8,1388.2 L850.5,1388.1 L853.1,1388.2 L855.8,1388.0 L858.3,1387.6 L860.9,1386.9 L863.4,1386.4 L865.8,1386.1 L868.2,1385.9 L870.5,1385.5 L872.8,1384.9 L875.0,1384.3 L878.0,1383.5 L880.8,1382.8 L883.5,1382.1 L886.1,1381.3 L888.6,1380.3 L891.0,1379.2 L893.4,1378.1 L895.7,1377.0 L898.1,1375.9 L900.4,1374.8 L902.7,1373.7 L905.1,1372.9 L907.5,1372.3 L910.0,1371.8 L912.4,1371.4 L914.8,1370.7 L917.3,1369.8 L919.8,1369.0 L922.3,1368.2 L924.9,1367.5 L927.4,1366.6 L929.9,1365.2 L932.4,1363.7 L934.8,1362.4 L937.2,1361.7 L939.6,1361.4 L941.9,1360.7 L944.2,1359.8 L946.4,1358.9 L949.0,1357.8 L951.6,1356.7 L954.1,1355.6 L956.5,1354.5 L958.9,1353.4 L961.2,1352.3 L963.5,1351.2 L965.7,1350.1 L968.0,1349.0 L970.2,1347.9 L972.4,1346.8 L974.6,1345.7 L977.0,1344.5 L979.3,1343.3 L981.6,1342.1 L983.9,1340.9 L986.1,1339.7 L988.4,1338.5 L990.6,1337.2 L992.8,1336.0 L995.0,1334.8 L997.2,1333.6 L999.5,1332.4 L1001.8,1331.2 L1004.1,1330.0 L1006.4,1328.9 L1008.7,1327.7 L1011.0,1326.5 L1013.3,1325.4 L1015.6,1324.2 L1017.9,1323.0 L1020.1,1321.7 L1022.3,1320.4 L1024.4,1319.1 L1026.7,1317.6 L1029.0,1316.0 L1031.4,1314.4 L1033.6,1312.7 L1035.9,1311.0 L1038.1,1309.3 L1040.2,1307.6 L1042.2,1305.9 L1044.1,1304.2 L1045.9,1302.5 L1048.0,1300.4 L1049.8,1298.3 L1051.5,1296.2 L1053.1,1294.0 L1054.6,1291.9 L1056.1,1289.9 L1057.6,1287.9 L1059.2,1286.0 L1061.1,1283.9 L1063.1,1281.7 L1065.1,1279.6 L1067.1,1277.7 L1069.0,1275.8 L1070.8,1274.1 L1072.4,1272.7 L1075.6,1270.6 L1078.2,1269.4 L1080.7,1267.7 L1082.4,1265.7 L1083.8,1263.5 L1085.4,1260.9 L1087.4,1257.8 L1088.6,1256.0 L1089.9,1254.0 L1091.3,1251.8 L1092.8,1249.5 L1094.3,1247.2 L1095.9,1245.0 L1097.4,1243.0 L1099.0,1241.2 L1101.2,1239.2 L1103.5,1237.6 L1105.8,1236.2 L1108.1,1234.8 L1110.3,1233.2 L1112.2,1231.2 L1113.6,1229.2 L1114.7,1227.1 L1115.7,1224.9 L1116.6,1222.5 L1117.7,1220.0 L1118.9,1217.4 L1120.5,1214.7 L1121.8,1212.8 L1123.2,1210.9 L1124.8,1209.0 L1126.4,1207.0 L1128.1,1204.9 L1129.8,1202.8 L1131.6,1200.6 L1133.4,1198.2 L1135.3,1195.7 L1137.1,1193.1 L1138.3,1191.2 L1139.7,1189.1 L1141.0,1186.9 L1142.4,1184.6 L1143.9,1182.2 L1145.3,1179.8 L1146.8,1177.3 L1148.2,1174.8 L1149.6,1172.4 L1151.0,1170.0 L1152.3,1167.8 L1153.5,1165.6 L1154.7,1163.6 L1155.8,1161.7 L1156.8,1160.1 L1158.8,1156.9 L1160.2,1154.7 L1161.3,1153.0 L1162.3,1151.4 L1163.5,1149.6 L1165.0,1147.0 L1166.1,1145.0 L1167.3,1142.9 L1168.5,1140.6 L1169.7,1138.2 L1171.0,1135.7 L1172.4,1133.2 L1173.8,1130.6 L1175.2,1128.1 L1176.6,1125.6 L1178.1,1123.2 L1179.5,1121.0 L1180.9,1118.8 L1182.4,1116.6 L1183.9,1114.3 L1185.5,1112.1 L1187.0,1109.8 L1188.6,1107.7 L1190.1,1105.7 L1191.6,1103.7 L1193.0,1101.9 L1194.4,1100.3 L1196.8,1097.8 L1199.2,1095.9 L1201.5,1094.3 L1203.7,1092.8 L1205.6,1091.3 L1207.4,1089.4 L1208.8,1087.2 L1209.7,1085.0 L1210.5,1082.6 L1211.4,1080.2 L1212.4,1077.6 L1214.0,1075.0 L1215.4,1073.2 L1216.9,1071.2 L1218.7,1069.2 L1220.5,1067.1 L1222.4,1065.1 L1224.3,1063.1 L1226.2,1061.1 L1228.0,1059.3 L1229.7,1057.6 L1231.9,1055.4 L1233.9,1053.6 L1235.9,1052.0 L1237.9,1050.4 L1240.0,1048.6 L1242.5,1046.4 L1244.2,1044.9 L1246.0,1043.2 L1248.0,1041.3 L1250.0,1039.4 L1252.0,1037.5 L1254.1,1035.5 L1256.1,1033.7 L1258.1,1031.9 L1259.9,1030.3 L1261.6,1028.9 L1264.1,1027.1 L1266.3,1025.6 L1268.4,1024.5 L1270.4,1023.5 L1272.3,1022.3 L1274.4,1020.9 L1276.5,1019.3 L1278.6,1017.6 L1280.6,1015.8 L1282.7,1013.9 L1284.9,1011.9 L1287.1,1009.7 L1288.8,1007.9 L1290.6,1005.8 L1292.5,1003.6 L1294.3,1001.4 L1296.1,999.2 L1298.0,997.1 L1299.8,995.3 L1301.5,993.8 L1304.2,992.3 L1306.8,991.5 L1309.3,991.1 L1311.8,990.4 L1314.2,989.0 L1315.8,987.5 L1317.4,985.8 L1318.9,983.9 L1320.3,981.8 L1321.9,979.6 L1323.6,977.2 L1325.4,974.6 L1326.8,972.7 L1328.3,970.6 L1329.8,968.5 L1331.4,966.2 L1333.1,963.9 L1334.7,961.6 L1336.4,959.2 L1338.0,956.9 L1339.7,954.6 L1341.3,952.3 L1342.9,950.1 L1344.4,948.1 L1345.9,946.1 L1347.4,944.2 L1348.9,942.2 L1350.4,940.1 L1352.0,937.9 L1353.7,935.5 L1355.4,932.9 L1357.3,930.0 L1358.4,928.2 L1359.6,926.3 L1360.8,924.3 L1362.1,922.1 L1363.5,919.9 L1364.8,917.6 L1366.2,915.2 L1367.6,912.8 L1369.0,910.4 L1370.4,908.0 L1371.8,905.6 L1373.1,903.3 L1374.4,901.0 L1375.7,898.8 L1376.9,896.7 L1378.0,894.7 L1379.0,892.8 L1380.0,891.1 L1381.7,888.0 L1383.1,885.3 L1384.3,882.9 L1385.4,880.7 L1386.3,878.7 L1387.2,876.8 L1388.1,874.9 L1389.0,873.0 L1390.1,870.9 L1391.3,868.5 L1392.6,866.2 L1393.8,863.9 L1395.0,861.7 L1396.3,859.4 L1397.5,857.2 L1398.8,855.0 L1400.2,852.7 L1401.6,850.4 L1403.1,848.1 L1404.6,845.9 L1406.1,843.6 L1407.7,841.3 L1409.2,839.0 L1410.8,836.8 L1412.3,834.5 L1413.8,832.2 L1415.3,829.8 L1416.8,827.4 L1418.3,824.9 L1419.9,822.6 L1421.4,820.4 L1422.9,818.3 L1424.4,816.4 L1426.4,814.2 L1428.4,812.4 L1430.4,810.7 L1432.4,809.2 L1434.5,807.8 L1436.6,806.3 L1438.8,804.8 L1441.1,803.3 L1443.5,801.9 L1445.8,800.6 L1448.3,799.5 L1450.7,798.6 L1453.2,797.9 L1455.9,797.3 L1458.6,796.9 L1461.3,796.7 L1463.7,796.8 L1465.9,797.2 L1468.6,798.6 L1470.7,800.7 L1472.7,803.1 L1474.9,805.3 L1476.8,806.8 L1478.9,808.2 L1480.9,809.6 L1483.0,811.2 L1485.0,813.3 L1486.5,815.0 L1487.9,817.0 L1489.4,819.0 L1490.8,821.3 L1492.3,823.6 L1493.7,826.0 L1495.2,828.5 L1496.3,830.5 L1497.5,832.6 L1498.6,834.7 L1499.7,836.9 L1500.8,839.2 L1501.9,841.5 L1503.1,843.8 L1504.2,846.3 L1505.3,848.7 L1506.3,850.9 L1507.3,853.2 L1508.3,855.4 L1509.3,857.7 L1510.3,860.0 L1511.4,862.4 L1512.4,864.9 L1513.4,867.5 L1514.4,870.1 L1515.4,872.9 L1516.2,875.1 L1517.0,877.4 L1517.8,879.7 L1518.6,882.1 L1519.4,884.6 L1520.2,887.1 L1521.0,889.6 L1521.8,892.2 L1522.5,894.8 L1523.3,897.4 L1524.1,900.0 L1524.8,902.7 L1525.5,905.3 L1526.1,907.8 L1526.8,910.3 L1527.4,912.8 L1527.9,915.4 L1528.5,918.0 L1529.1,920.6 L1529.6,923.2 L1530.2,925.8 L1530.7,928.5 L1531.3,931.1 L1531.8,933.7 L1532.4,936.4 L1532.9,939.0 L1533.5,941.6 L1534.1,944.2 L1534.7,946.8 L1535.2,949.3 L1535.8,951.9 L1536.4,954.4 L1537.0,957.0 L1537.5,959.5 L1538.1,962.1 L1538.7,964.7 L1539.3,967.3 L1539.9,969.9 L1540.4,972.6 L1541.0,975.3 L1541.6,978.0 L1542.1,980.4 L1542.6,982.9 L1543.1,985.3 L1543.6,987.8 L1544.1,990.3 L1544.6,992.9 L1545.1,995.4 L1545.6,998.0 L1546.2,1000.5 L1546.7,1003.1 L1547.2,1005.6 L1547.7,1008.2 L1548.2,1010.8 L1548.7,1013.3 L1549.2,1015.9 L1549.7,1018.4 L1550.2,1020.9 L1550.7,1023.4 L1551.2,1026.0 L1551.7,1028.5 L1552.2,1031.0 L1552.7,1033.5 L1553.2,1036.1 L1553.8,1038.6 L1554.3,1041.1 L1554.8,1043.6 L1555.3,1046.2 L1555.8,1048.7 L1556.3,1051.2 L1556.8,1053.8 L1557.3,1056.3 L1557.8,1058.8 L1558.3,1061.3 L1558.8,1063.8 L1559.3,1066.4 L1559.8,1068.9 L1560.3,1071.4 L1560.8,1074.0 L1561.3,1076.5 L1561.9,1079.0 L1562.4,1081.5 L1562.9,1084.0 L1563.4,1086.6 L1563.9,1089.1 L1564.4,1091.6 L1564.9,1094.2 L1565.4,1096.7 L1565.9,1099.2 L1566.4,1101.7 L1566.9,1104.2 L1567.4,1106.7 L1567.9,1109.1 L1568.4,1111.5 L1568.9,1114.0 L1569.3,1116.4 L1569.8,1118.9 L1570.3,1121.3 L1570.8,1123.8 L1571.3,1126.3 L1571.8,1128.9 L1572.3,1131.5 L1572.8,1134.1 L1573.4,1136.8 L1573.9,1139.6 L1574.4,1142.0 L1574.8,1144.5 L1575.3,1147.0 L1575.8,1149.5 L1576.2,1152.2 L1576.7,1154.8 L1577.2,1157.5 L1577.7,1160.2 L1578.2,1162.9 L1578.7,1165.6 L1579.2,1168.3 L1579.7,1171.0 L1580.2,1173.7 L1580.7,1176.3 L1581.1,1178.9 L1581.6,1181.4 L1582.1,1183.9 L1582.6,1186.4 L1583.1,1188.7 L1583.7,1191.6 L1584.3,1194.4 L1584.9,1197.1 L1585.5,1199.8 L1586.1,1202.4 L1586.7,1204.9 L1587.3,1207.5 L1587.9,1210.0 L1588.5,1212.4 L1589.1,1214.9 L1589.7,1217.4 L1590.3,1219.8 L1590.9,1222.3 L1591.6,1224.8 L1592.2,1227.4 L1592.9,1230.0 L1593.5,1232.6 L1594.2,1235.2 L1594.9,1237.8 L1595.5,1240.4 L1596.2,1243.0 L1596.9,1245.6 L1597.6,1248.2 L1598.3,1250.7 L1599.0,1253.3 L1599.7,1255.9 L1600.4,1258.4 L1601.1,1261.0 L1601.8,1263.5 L1602.5,1266.0 L1603.2,1268.5 L1603.9,1270.9 L1604.5,1273.4 L1605.2,1275.8 L1605.9,1278.3 L1606.6,1280.7 L1607.2,1283.1 L1607.9,1285.5 L1608.6,1287.9 L1609.3,1290.2 L1610.0,1292.6 L1610.7,1295.0 L1611.4,1297.4 L1612.1,1299.7 L1612.8,1302.1 L1613.6,1304.7 L1614.4,1307.2 L1615.2,1309.8 L1616.1,1312.4 L1616.9,1315.0 L1617.7,1317.6 L1618.6,1320.2 L1619.5,1322.7 L1620.3,1325.3 L1621.1,1327.7 L1622.0,1330.2 L1622.8,1332.5 L1623.6,1334.8 L1624.4,1337.0 L1625.4,1339.7 L1626.4,1342.4 L1627.4,1345.0 L1628.3,1347.5 L1629.3,1349.9 L1630.2,1352.2 L1631.2,1354.5 L1632.1,1356.7 L1633.0,1358.8 L1633.8,1360.8 L1634.7,1362.7 L1636.1,1365.7 L1637.4,1368.2 L1638.6,1370.4 L1639.9,1372.6 L1641.3,1375.0 L1643.0,1378.0 L1644.1,1379.9 L1645.2,1382.0 L1646.4,1384.3 L1647.7,1386.6 L1649.0,1389.0 L1650.4,1391.5 L1651.7,1393.9 L1653.1,1396.3 L1654.6,1398.6 L1656.0,1400.7 L1657.4,1402.7 L1659.1,1404.9 L1660.9,1407.0 L1662.7,1409.0 L1664.6,1410.9 L1666.5,1412.7 L1668.3,1414.5 L1670.3,1416.2 L1672.2,1417.8 L1674.1,1419.5 L1676.3,1421.3 L1678.4,1423.1 L1680.6,1424.7 L1682.7,1426.4 L1685.0,1427.9 L1687.3,1429.4 L1689.7,1430.9 L1692.2,1432.4 L1694.3,1433.5 L1696.6,1434.7 L1698.9,1435.8 L1701.3,1436.9 L1703.7,1437.9 L1706.2,1438.9 L1708.6,1439.9 L1710.9,1440.9 L1713.2,1441.8 L1715.4,1442.7 L1718.0,1443.8 L1720.4,1444.8 L1722.7,1445.8 L1725.0,1446.7 L1727.3,1447.5 L1729.6,1448.4 L1732.1,1449.2 L1734.7,1449.9 L1737.0,1450.5 L1739.1,1451.0 L1741.1,1451.5 L1743.1,1452.0 L1745.4,1452.4 L1748.0,1452.8 L1751.0,1453.3 L1754.5,1453.8 L1758.7,1454.3 L1760.5,1454.5 L1762.5,1454.8 L1764.5,1455.0 L1766.5,1455.3 L1768.7,1455.5 L1770.9,1455.8 L1773.2,1456.1 L1775.6,1456.3 L1778.0,1456.6 L1780.5,1456.9 L1783.0,1457.2 L1785.6,1457.4 L1788.3,1457.7 L1791.0,1458.0 L1793.8,1458.2 L1796.6,1458.5 L1799.4,1458.8 L1802.3,1459.0 L1805.2,1459.2 L1808.2,1459.5 L1811.2,1459.7 L1814.2,1459.9 L1817.3,1460.1 L1819.5,1460.2 L1821.6,1460.4 L1823.8,1460.5 L1826.1,1460.6 L1828.3,1460.7 L1830.6,1460.8 L1832.9,1460.9 L1835.3,1461.0 L1837.6,1461.1 L1840.0,1461.2 L1842.4,1461.3 L1844.9,1461.4 L1847.3,1461.5 L1849.8,1461.6 L1852.3,1461.9 L1854.8,1461.8 L1857.3,1461.9 L1859.9,1462.1 L1862.4,1462.1 L1865.0,1461.8 L1867.6,1461.6 L1870.3,1461.8 L1872.9,1462.5 L1875.5,1463.2 L1878.2,1463.4 L1880.9,1462.9 L1883.6,1462.1 L1886.3,1461.7 L1889.0,1462.0 L1891.7,1462.6 L1894.5,1462.8 L1897.2,1462.4 L1900.0,1461.9 L1902.3,1461.7 L1904.5,1462.1 L1906.8,1462.8 L1909.1,1463.7 L1911.3,1464.4 L1913.6,1464.8 L1915.8,1464.8 L1918.1,1464.6 L1920.3,1464.2 L1922.6,1463.8 L1924.8,1463.5 L1927.1,1463.5 L1929.4,1463.7 L1931.7,1464.1 L1933.9,1464.3 L1936.3,1464.2 L1938.6,1463.8 L1940.9,1463.2 L1943.3,1462.9 L1945.7,1463.1 L1948.1,1463.9 L1950.5,1464.7 L1952.9,1465.0 L1955.4,1464.7 L1957.9,1464.0 L1960.5,1463.6 L1963.0,1463.7 L1965.6,1464.4 L1968.3,1465.1 L1970.9,1465.3 L1973.6,1465.0 L1976.4,1464.6 L1979.2,1464.4 L1982.0,1464.6 L1984.9,1464.8 L1987.8,1464.9 L1990.8,1464.9 L1993.8,1465.0 L1996.9,1465.2 L2000.0,1465.1 L2002.1,1465.0 L2004.3,1465.0 L2006.6,1465.2 L2008.9,1465.6 L2011.3,1465.9 L2013.8,1465.8 L2016.3,1465.4 L2018.8,1464.8 L2021.4,1464.4 L2024.1,1464.4 L2026.8,1464.6 L2029.5,1464.8 L2032.3,1465.0 L2035.1,1465.2 L2037.9,1465.5 L2040.8,1466.0 L2043.7,1466.0 L2046.6,1465.7 L2049.5,1465.3 L2052.4,1465.2 L2055.4,1465.3 L2058.4,1465.3 L2061.4,1465.0 L2064.4,1464.9 L2067.3,1465.2 L2070.3,1466.0 L2073.3,1466.5 L2076.3,1466.5 L2079.3,1466.1 L2082.2,1465.9 L2085.2,1466.0 L2088.1,1466.2 L2091.0,1466.0 L2093.9,1465.6 L2096.8,1465.3 L2099.6,1465.4 L2102.5,1465.4 L2105.2,1465.2 L2108.0,1464.8 L2110.7,1464.6 L2113.3,1464.9 L2115.9,1465.5 L2118.5,1465.9 L2121.0,1466.0 L2123.5,1465.7 L2125.9,1465.5 L2128.2,1465.6 L2130.5,1465.9 L2132.7,1466.4 L2134.9,1466.7 L2136.9,1466.9 L2138.9,1466.9 L2140.9,1466.8 L2142.7,1466.6 L2144.5,1466.4 L2146.2,1466.3 L2147.8,1466.1 L2149.3,1465.9 L2150.7,1465.7 L2152.0,1465.6"/>
<path stroke="#0000ff" d="M236.0,1362.5 L237.8,1363.2 L240.4,1364.3 L243.3,1365.5 L246.3,1366.5 L249.0,1367.1 L251.9,1367.1 L254.6,1366.4 L257.3,1365.9 L260.0,1366.3 L261.8,1367.5 L263.6,1369.2 L265.4,1371.3 L267.2,1373.4 L269.1,1375.2 L271.0,1376.7 L273.5,1377.8 L276.0,1378.6 L278.6,1379.1 L281.3,1379.3 L284.0,1379.4 L286.7,1379.0 L289.5,1378.2 L292.4,1377.2 L295.2,1376.6 L298.0,1376.6 L300.3,1377.4 L302.6,1378.7 L304.9,1380.3 L307.2,1381.9 L309.6,1383.3 L312.0,1384.3 L314.6,1384.8 L317.3,1385.0 L320.1,1385.0 L322.8,1384.8 L325.5,1384.5 L328.0,1384.2 L330.7,1383.4 L333.1,1382.3 L335.5,1381.1 L338.1,1380.2 L341.0,1380.1 L343.1,1380.5 L345.3,1381.4 L347.6,1382.5 L350.1,1383.8 L352.5,1385.1 L355.0,1386.2 L357.5,1387.0 L360.0,1387.4 L362.4,1387.3 L364.9,1386.7 L367.3,1385.8 L369.8,1384.8 L372.3,1383.8 L374.8,1383.0 L377.4,1382.4 L380.0,1382.3 L382.3,1382.7 L384.6,1383.4 L386.9,1384.4 L389.3,1385.5 L391.6,1386.8 L394.1,1387.9 L396.6,1388.9 L399.2,1389.7 L402.0,1390.2 L404.5,1390.2 L407.1,1390.1 L410.0,1389.8 L413.0,1389.3 L415.9,1388.8 L418.9,1388.2 L421.8,1387.7 L424.5,1387.2 L427.0,1386.7 L429.2,1386.5 L431.0,1386.3 L434.6,1387.2 L435.7,1388.9 L438.0,1389.9 L440.3,1389.9 L443.1,1389.5 L446.1,1389.0 L449.3,1388.4 L452.3,1387.9 L455.0,1387.7 L457.6,1387.6 L459.6,1387.8 L461.6,1388.0 L464.2,1388.4 L468.0,1388.8 L470.0,1389.1 L472.4,1389.4 L475.0,1389.7 L477.7,1390.1 L480.6,1390.5 L483.6,1390.9 L486.6,1391.3 L489.6,1391.6 L492.5,1391.9 L495.2,1392.1 L497.7,1392.2 L500.0,1392.2 L503.4,1391.8 L506.5,1391.1 L509.3,1390.1 L511.8,1389.0 L514.2,1388.1 L516.6,1387.5 L519.0,1387.3 L521.8,1387.8 L524.4,1389.0 L526.9,1390.5 L529.4,1391.9 L531.7,1393.0 L534.0,1393.3 L536.5,1392.4 L538.7,1390.6 L540.9,1388.4 L543.3,1386.4 L546.0,1385.3 L548.3,1385.2 L550.9,1385.5 L553.6,1386.1 L556.3,1386.8 L559.0,1387.5 L561.6,1388.3 L564.0,1388.8 L566.7,1389.5 L569.0,1390.2 L571.2,1390.9 L573.7,1391.4 L577.0,1391.6 L579.0,1391.6 L581.2,1391.5 L583.5,1391.3 L586.0,1391.0 L588.6,1390.7 L591.2,1390.4 L593.9,1390.2 L596.6,1390.0 L599.3,1389.8 L602.0,1389.8 L604.3,1389.9 L606.3,1390.1 L608.3,1390.4 L610.2,1390.6 L612.2,1391.0 L614.3,1391.3 L616.6,1391.7 L619.3,1392.0 L622.3,1392.4 L625.9,1392.7 L630.0,1393.0 L631.8,1393.1 L633.7,1393.2 L635.7,1393.3 L637.8,1393.5 L639.9,1393.6 L642.2,1393.7 L644.5,1393.9 L646.9,1394.0 L649.3,1394.1 L651.8,1394.4 L654.3,1394.3 L656.9,1394.1 L659.5,1394.1 L662.2,1394.5 L664.9,1395.2 L667.6,1395.6 L670.3,1395.7 L673.1,1395.4 L675.8,1395.3 L678.6,1395.7 L681.3,1396.4 L684.0,1396.9 L686.8,1396.8 L689.5,1396.3 L692.2,1395.9 L694.8,1395.7 L697.4,1395.7 L700.0,1395.5 L702.5,1395.3 L705.0,1395.3 L707.5,1395.4 L710.1,1395.9 L712.7,1396.3 L715.3,1396.5 L717.9,1396.4 L720.5,1396.1 L723.2,1395.8 L725.8,1395.7 L728.5,1395.6 L731.1,1395.4 L733.7,1395.2 L736.4,1395.1 L739.0,1395.3 L741.6,1395.5 L744.2,1395.5 L746.8,1395.4 L749.3,1395.4 L751.9,1395.5 L754.4,1395.8 L756.8,1396.1 L759.3,1396.2 L761.7,1396.0 L764.0,1395.7 L766.3,1395.6 L768.6,1395.6 L770.8,1395.7 L773.0,1395.8 L776.0,1395.4 L779.0,1394.9 L781.8,1394.5 L784.6,1394.5 L787.3,1394.6 L789.9,1394.6 L792.5,1394.4 L795.0,1394.1 L797.4,1394.0 L799.9,1394.1 L802.3,1394.2 L804.7,1394.1 L807.0,1394.0 L809.4,1393.9 L811.8,1394.1 L814.2,1394.4 L816.6,1394.7 L819.0,1394.6 L821.5,1394.0 L824.0,1393.1 L826.6,1392.4 L829.2,1392.3 L831.9,1392.5 L834.6,1392.9 L837.4,1392.8 L840.1,1392.4 L842.9,1391.9 L845.6,1391.4 L848.4,1391.1 L851.1,1390.6 L853.8,1390.0 L856.5,1389.2 L859.1,1388.5 L861.6,1387.8 L864.1,1387.2 L866.5,1386.7 L868.8,1386.4 L871.0,1386.4 L873.0,1386.4 L875.0,1386.4 L878.4,1385.8 L881.3,1384.7 L883.6,1383.8 L885.7,1383.2 L887.6,1383.0 L889.5,1382.9 L891.5,1382.8 L893.8,1382.3 L896.6,1381.1 L900.0,1379.1 L901.8,1378.2 L903.8,1377.5 L905.8,1377.1 L907.9,1376.8 L910.1,1376.4 L912.4,1375.8 L914.7,1374.8 L917.1,1373.9 L919.6,1373.1 L922.0,1372.4 L924.6,1371.7 L927.1,1370.8 L929.6,1369.8 L932.2,1368.7 L934.8,1367.8 L937.3,1367.0 L939.9,1366.2 L942.4,1364.8 L944.9,1363.9 L947.3,1362.9 L949.7,1362.0 L952.1,1361.1 L954.5,1360.2 L956.8,1359.2 L959.2,1358.3 L961.6,1357.4 L964.0,1356.4 L966.4,1355.5 L968.8,1354.5 L971.2,1353.6 L973.6,1352.6 L976.0,1351.6 L978.4,1350.6 L980.8,1349.6 L983.1,1348.6 L985.5,1347.5 L987.9,1346.5 L990.2,1345.4 L992.6,1344.3 L994.9,1343.2 L997.2,1342.1 L999.5,1341.0 L1001.8,1339.8 L1004.1,1338.7 L1006.4,1337.4 L1008.7,1336.2 L1011.0,1334.9 L1013.3,1333.7 L1015.6,1332.4 L1017.9,1331.0 L1020.1,1329.7 L1022.4,1328.4 L1024.7,1327.1 L1026.9,1325.7 L1029.1,1324.4 L1031.3,1323.1 L1033.5,1321.7 L1035.6,1320.4 L1037.7,1319.1 L1039.8,1317.8 L1041.9,1316.5 L1043.9,1315.2 L1045.9,1314.0 L1048.3,1312.5 L1050.7,1311.0 L1053.1,1309.5 L1055.4,1308.1 L1057.7,1306.6 L1059.9,1305.2 L1062.1,1303.8 L1064.3,1302.4 L1066.5,1301.0 L1068.6,1299.5 L1070.7,1298.1 L1072.7,1296.7 L1074.7,1295.2 L1076.7,1293.8 L1078.6,1292.3 L1080.5,1290.8 L1082.4,1289.3 L1084.4,1287.6 L1086.4,1285.8 L1088.3,1284.1 L1090.1,1282.4 L1091.8,1280.6 L1093.5,1278.9 L1095.1,1277.1 L1096.8,1275.3 L1098.4,1273.5 L1100.1,1271.7 L1101.7,1269.8 L1103.4,1267.9 L1105.2,1266.0 L1107.0,1264.0 L1108.9,1262.0 L1110.6,1260.2 L1112.3,1258.4 L1114.1,1256.5 L1116.0,1254.5 L1117.9,1252.5 L1119.8,1250.4 L1121.8,1248.3 L1123.8,1246.3 L1125.7,1244.2 L1127.6,1242.1 L1129.5,1240.1 L1131.3,1238.1 L1133.1,1236.2 L1134.8,1234.3 L1136.4,1232.6 L1137.8,1230.9 L1139.2,1229.4 L1140.4,1228.0 L1143.2,1224.5 L1145.2,1221.9 L1146.5,1219.8 L1147.5,1217.9 L1148.6,1216.1 L1150.0,1214.0 L1151.6,1211.9 L1153.3,1209.8 L1155.0,1207.6 L1156.8,1205.4 L1158.4,1203.4 L1159.9,1201.6 L1161.2,1200.0 L1162.8,1198.0 L1163.7,1196.9 L1165.9,1194.0 L1167.0,1192.5 L1168.4,1190.6 L1169.9,1188.6 L1171.5,1186.3 L1173.2,1184.0 L1175.0,1181.5 L1176.8,1179.1 L1178.5,1176.7 L1180.3,1174.4 L1181.9,1172.3 L1183.7,1170.1 L1185.4,1167.9 L1187.2,1165.7 L1189.0,1163.5 L1190.7,1161.4 L1192.5,1159.4 L1194.3,1157.3 L1196.0,1155.2 L1197.8,1153.2 L1199.6,1151.2 L1201.4,1149.1 L1203.1,1147.1 L1204.9,1145.1 L1206.7,1143.2 L1208.5,1141.2 L1210.2,1139.3 L1212.0,1137.5 L1213.8,1135.7 L1215.8,1133.7 L1217.8,1131.8 L1219.8,1130.0 L1221.8,1128.2 L1223.7,1126.4 L1225.7,1124.7 L1227.7,1123.0 L1229.7,1121.3 L1231.7,1119.6 L1233.7,1118.0 L1235.7,1116.4 L1237.7,1114.8 L1239.7,1113.3 L1241.7,1111.7 L1243.7,1110.2 L1245.7,1108.6 L1247.7,1107.0 L1249.7,1105.3 L1251.7,1103.7 L1253.6,1102.0 L1255.6,1100.4 L1257.6,1098.8 L1259.6,1097.3 L1261.6,1095.8 L1263.9,1094.2 L1266.2,1092.8 L1268.5,1091.4 L1270.7,1090.0 L1273.0,1088.6 L1275.3,1087.1 L1277.6,1085.5 L1279.6,1083.9 L1281.7,1082.2 L1283.8,1080.5 L1285.9,1078.7 L1288.0,1076.9 L1290.0,1075.1 L1291.8,1073.4 L1293.5,1071.9 L1295.8,1069.6 L1297.8,1067.4 L1299.6,1065.4 L1301.3,1063.6 L1303.1,1062.3 L1306.2,1061.6 L1309.2,1061.8 L1312.6,1060.7 L1314.2,1059.5 L1315.9,1058.0 L1317.7,1056.2 L1319.5,1054.3 L1321.4,1052.2 L1323.4,1050.1 L1325.4,1048.0 L1327.0,1046.4 L1328.7,1044.7 L1330.5,1043.0 L1332.2,1041.3 L1334.1,1039.5 L1335.9,1037.7 L1337.7,1035.8 L1339.5,1033.9 L1341.3,1032.0 L1343.1,1030.0 L1344.9,1027.9 L1346.6,1025.8 L1348.4,1023.6 L1350.2,1021.4 L1352.0,1019.3 L1353.7,1017.1 L1355.5,1015.0 L1357.3,1012.9 L1359.1,1010.8 L1361.0,1008.7 L1362.9,1006.5 L1364.9,1004.4 L1366.8,1002.3 L1368.6,1000.3 L1370.3,998.5 L1371.8,996.8 L1373.2,995.4 L1376.0,992.8 L1377.8,991.4 L1380.0,989.1 L1381.3,987.4 L1382.6,985.3 L1384.1,982.9 L1385.6,980.5 L1387.1,978.1 L1388.6,975.9 L1390.1,973.9 L1392.1,971.5 L1394.0,969.4 L1396.0,967.4 L1398.1,965.6 L1400.2,963.8 L1402.4,962.1 L1404.7,960.7 L1407.1,959.3 L1409.6,957.7 L1412.3,955.8 L1414.1,954.3 L1415.9,952.6 L1417.8,950.8 L1419.8,948.9 L1421.8,947.0 L1423.9,945.3 L1426.2,943.8 L1428.5,942.6 L1431.1,941.7 L1433.9,940.9 L1436.9,940.3 L1440.0,939.9 L1443.0,939.6 L1445.9,939.5 L1448.5,939.5 L1450.7,939.6 L1454.2,940.6 L1456.8,942.4 L1458.8,944.3 L1460.8,945.7 L1463.5,945.5 L1466.9,946.7 L1468.3,947.9 L1469.9,949.4 L1471.7,951.2 L1473.6,953.1 L1475.6,955.2 L1477.6,957.4 L1479.5,959.6 L1481.3,961.8 L1483.0,963.8 L1484.7,966.0 L1486.3,968.0 L1487.8,970.1 L1489.2,972.2 L1490.7,974.4 L1492.1,976.7 L1493.6,979.2 L1495.2,982.0 L1496.3,984.0 L1497.5,986.1 L1498.6,988.3 L1499.8,990.6 L1501.0,993.0 L1502.3,995.4 L1503.5,997.9 L1504.7,1000.3 L1505.9,1002.8 L1507.0,1005.4 L1508.2,1007.8 L1509.3,1010.3 L1510.3,1012.6 L1511.3,1014.9 L1512.3,1017.2 L1513.2,1019.5 L1514.2,1021.8 L1515.1,1024.2 L1516.1,1026.5 L1517.0,1028.9 L1517.9,1031.2 L1518.8,1033.6 L1519.7,1035.9 L1520.5,1038.3 L1521.4,1040.6 L1522.3,1043.1 L1523.2,1045.6 L1524.1,1048.0 L1524.9,1050.5 L1525.8,1052.9 L1526.6,1055.4 L1527.4,1057.8 L1528.2,1060.3 L1529.0,1062.9 L1529.8,1065.5 L1530.7,1068.2 L1531.5,1070.9 L1532.2,1073.1 L1532.8,1075.4 L1533.5,1077.7 L1534.2,1080.0 L1534.8,1082.3 L1535.5,1084.7 L1536.2,1087.1 L1536.9,1089.5 L1537.5,1092.0 L1538.2,1094.5 L1538.9,1097.0 L1539.5,1099.5 L1540.2,1102.1 L1540.9,1104.7 L1541.6,1107.3 L1542.2,1109.7 L1542.8,1112.1 L1543.4,1114.5 L1544.1,1117.0 L1544.7,1119.5 L1545.3,1122.1 L1545.9,1124.6 L1546.6,1127.2 L1547.2,1129.8 L1547.8,1132.4 L1548.5,1135.0 L1549.1,1137.5 L1549.7,1140.1 L1550.3,1142.6 L1551.0,1145.1 L1551.6,1147.6 L1552.2,1150.0 L1552.9,1152.5 L1553.5,1155.0 L1554.1,1157.5 L1554.8,1160.0 L1555.4,1162.4 L1556.1,1164.8 L1556.7,1167.2 L1557.4,1169.6 L1558.0,1172.0 L1558.7,1174.4 L1559.3,1176.7 L1559.9,1179.1 L1560.6,1181.5 L1561.2,1183.9 L1561.9,1186.3 L1562.5,1188.7 L1563.1,1191.1 L1563.8,1193.6 L1564.4,1196.0 L1565.1,1198.4 L1565.7,1200.9 L1566.4,1203.3 L1567.0,1205.8 L1567.7,1208.2 L1568.3,1210.6 L1568.9,1213.1 L1569.6,1215.5 L1570.2,1217.9 L1570.9,1220.3 L1571.5,1222.7 L1572.2,1225.1 L1572.8,1227.4 L1573.5,1229.9 L1574.2,1232.4 L1574.9,1234.8 L1575.5,1237.2 L1576.2,1239.7 L1576.9,1242.1 L1577.6,1244.5 L1578.3,1246.9 L1579.0,1249.3 L1579.7,1251.7 L1580.3,1254.0 L1581.0,1256.4 L1581.7,1258.8 L1582.4,1261.1 L1583.1,1263.5 L1583.8,1266.0 L1584.6,1268.6 L1585.3,1271.1 L1586.0,1273.6 L1586.8,1276.1 L1587.5,1278.6 L1588.2,1281.1 L1589.0,1283.6 L1589.7,1286.1 L1590.4,1288.6 L1591.2,1291.0 L1592.0,1293.5 L1592.7,1295.9 L1593.5,1298.3 L1594.3,1300.9 L1595.2,1303.4 L1596.1,1306.0 L1596.9,1308.5 L1597.8,1311.0 L1598.7,1313.6 L1599.6,1316.0 L1600.5,1318.5 L1601.4,1321.0 L1602.3,1323.4 L1603.2,1325.8 L1604.2,1328.2 L1605.1,1330.5 L1606.1,1333.0 L1607.2,1335.5 L1608.3,1338.0 L1609.4,1340.4 L1610.4,1342.9 L1611.5,1345.3 L1612.7,1347.6 L1613.7,1350.0 L1614.8,1352.3 L1615.9,1354.5 L1617.0,1356.7 L1618.0,1358.9 L1619.2,1361.5 L1620.4,1364.0 L1621.6,1366.4 L1622.8,1368.9 L1624.0,1371.2 L1625.1,1373.5 L1626.2,1375.8 L1627.4,1378.0 L1628.5,1380.1 L1629.6,1382.1 L1631.2,1384.9 L1632.8,1387.5 L1634.3,1390.0 L1635.8,1392.3 L1637.3,1394.6 L1638.7,1396.7 L1640.0,1398.8 L1641.5,1401.4 L1642.6,1403.7 L1643.7,1405.9 L1645.1,1408.1 L1647.1,1410.5 L1648.7,1412.2 L1650.5,1413.9 L1652.5,1415.8 L1654.7,1417.6 L1656.9,1419.5 L1659.2,1421.3 L1661.5,1423.0 L1663.8,1424.7 L1665.8,1426.1 L1667.8,1427.5 L1669.8,1428.9 L1671.9,1430.2 L1674.0,1431.5 L1676.2,1432.7 L1678.4,1433.9 L1680.8,1435.1 L1683.2,1436.3 L1685.5,1437.3 L1687.8,1438.3 L1690.2,1439.2 L1692.6,1440.1 L1695.1,1440.9 L1697.6,1441.8 L1700.3,1442.6 L1703.1,1443.5 L1705.9,1444.4 L1708.9,1445.3 L1711.1,1446.0 L1713.2,1446.7 L1715.4,1447.4 L1717.6,1448.1 L1719.9,1448.9 L1722.2,1449.6 L1724.6,1450.3 L1727.0,1451.1 L1729.5,1451.8 L1732.2,1452.5 L1734.9,1453.2 L1737.8,1453.8 L1740.8,1454.4 L1744.0,1455.0 L1746.1,1455.4 L1748.1,1455.7 L1750.2,1456.0 L1752.3,1456.3 L1754.4,1456.6 L1756.6,1456.9 L1758.8,1457.2 L1761.0,1457.5 L1763.2,1457.8 L1765.6,1458.0 L1767.9,1458.3 L1770.4,1458.5 L1772.9,1458.8 L1775.5,1459.0 L1778.2,1459.3 L1781.0,1459.5 L1783.9,1459.8 L1786.9,1460.0 L1790.0,1460.3 L1793.2,1460.5 L1796.5,1460.8 L1800.0,1461.0 L1802.0,1461.1 L1804.0,1461.3 L1806.1,1461.4 L1808.2,1461.6 L1810.4,1461.7 L1812.6,1461.8 L1814.9,1462.0 L1817.2,1462.1 L1819.5,1462.2 L1821.9,1462.4 L1824.3,1462.5 L1826.8,1462.7 L1829.2,1462.8 L1831.7,1462.9 L1834.3,1463.1 L1836.8,1463.2 L1839.4,1463.3 L1842.0,1463.5 L1844.6,1463.6 L1847.2,1463.7 L1849.9,1463.8 L1852.5,1463.4 L1855.2,1463.4 L1857.9,1463.7 L1860.6,1464.0 L1863.2,1464.2 L1865.9,1464.3 L1868.6,1464.4 L1871.3,1464.6 L1874.0,1464.6 L1876.6,1464.7 L1879.3,1464.8 L1881.9,1465.2 L1884.6,1465.6 L1887.2,1465.9 L1889.8,1465.8 L1892.4,1465.7 L1894.9,1465.7 L1897.5,1466.0 L1900.0,1466.5 L1902.5,1466.7 L1904.9,1466.7 L1907.4,1466.6 L1909.8,1466.4 L1912.1,1466.5 L1914.5,1466.7 L1916.8,1466.8 L1919.2,1466.6 L1921.5,1466.4 L1923.8,1466.3 L1926.1,1466.5 L1928.4,1467.1 L1930.6,1467.8 L1932.9,1468.1 L1935.2,1467.8 L1937.5,1467.2 L1939.8,1466.7 L1942.1,1466.5 L1944.4,1466.7 L1946.8,1467.2 L1949.1,1467.5 L1951.5,1467.3 L1953.8,1466.8 L1956.3,1466.4 L1958.7,1466.5 L1961.2,1467.0 L1963.6,1468.0 L1966.2,1468.8 L1968.7,1469.4 L1971.3,1469.4 L1974.0,1469.1 L1976.7,1468.6 L1979.4,1468.2 L1982.2,1468.0 L1985.0,1468.2 L1987.9,1468.6 L1990.8,1468.8 L1993.8,1468.3 L1996.9,1467.5 L2000.0,1467.3 L2002.1,1467.8 L2004.3,1468.5 L2006.6,1469.2 L2008.9,1469.4 L2011.3,1468.9 L2013.8,1468.3 L2016.3,1467.9 L2018.8,1468.1 L2021.4,1468.8 L2024.1,1469.5 L2026.8,1469.6 L2029.5,1469.2 L2032.3,1468.8 L2035.1,1468.7 L2037.9,1468.9 L2040.8,1469.0 L2043.7,1469.1 L2046.6,1469.1 L2049.5,1469.2 L2052.4,1469.3 L2055.4,1469.3 L2058.4,1469.1 L2061.4,1469.3 L2064.4,1469.7 L2067.3,1470.0 L2070.3,1469.8 L2073.3,1469.2 L2076.3,1468.6 L2079.3,1468.5 L2082.2,1468.7 L2085.2,1469.0 L2088.1,1469.1 L2091.0,1469.4 L2093.9,1469.8 L2096.8,1470.2 L2099.6,1470.2 L2102.5,1469.8 L2105.2,1469.5 L2108.0,1469.4 L2110.7,1469.5 L2113.3,1469.5 L2115.9,1469.3 L2118.5,1469.1 L2121.0,1469.1 L2123.5,1469.6 L2125.9,1470.2 L2128.2,1470.7 L2130.5,1470.8 L2132.7,1470.6 L2134.9,1470.3 L2136.9,1470.1 L2138.9,1470.2 L2140.9,1470.3 L2142.7,1470.4 L2144.5,1470.5 L2146.2,1470.3 L2147.8,1470.1 L2149.3,1469.9 L2150.7,1469.8 L2152.0,1469.7"/>
<path stroke="#008080" d="M236.0,1361.5 L237.8,1362.1 L240.4,1363.0 L243.3,1364.0 L246.3,1364.8 L249.0,1365.3 L251.9,1365.1 L254.6,1364.2 L257.3,1363.5 L260.0,1363.8 L262.2,1365.1 L264.3,1367.2 L266.5,1369.6 L268.7,1371.9 L271.0,1373.5 L273.5,1374.4 L276.0,1375.0 L278.6,1375.3 L281.3,1375.4 L284.0,1375.4 L286.7,1375.0 L289.5,1374.1 L292.4,1373.2 L295.2,1372.6 L298.0,1372.6 L300.3,1373.4 L302.6,1374.7 L304.9,1376.3 L307.2,1377.9 L309.6,1379.3 L312.0,1380.3 L314.6,1380.8 L317.3,1381.0 L320.1,1381.0 L322.8,1380.8 L325.5,1380.6 L328.0,1380.2 L330.7,1379.4 L333.1,1378.1 L335.5,1376.8 L338.1,1375.9 L341.0,1375.6 L343.1,1375.9 L345.3,1376.7 L347.6,1377.7 L350.1,1378.9 L352.5,1380.0 L355.0,1381.0 L357.5,1381.7 L360.0,1382.0 L362.4,1381.8 L364.9,1381.1 L367.3,1380.1 L369.8,1379.0 L372.3,1377.9 L374.8,1377.0 L377.4,1376.4 L380.0,1376.2 L382.3,1376.4 L384.6,1377.1 L386.9,1378.0 L389.3,1379.1 L391.6,1380.2 L394.1,1381.3 L396.6,1382.2 L399.2,1382.9 L402.0,1383.2 L404.5,1383.2 L407.1,1382.9 L410.0,1382.5 L413.0,1382.0 L415.9,1381.3 L418.9,1380.7 L421.8,1380.0 L424.5,1379.4 L427.0,1378.9 L429.2,1378.5 L431.0,1378.4 L434.6,1379.2 L435.7,1380.9 L438.0,1382.1 L440.3,1382.0 L443.1,1381.7 L446.1,1381.2 L449.3,1380.7 L452.3,1380.2 L455.0,1380.0 L457.6,1380.0 L459.6,1380.2 L461.6,1380.5 L464.2,1380.9 L468.0,1381.4 L470.0,1381.6 L472.4,1382.0 L475.0,1382.4 L477.7,1382.8 L480.6,1383.2 L483.6,1383.7 L486.6,1384.1 L489.6,1384.5 L492.5,1384.8 L495.2,1385.0 L497.7,1385.2 L500.0,1385.2 L503.4,1384.9 L506.5,1384.2 L509.3,1383.3 L511.8,1382.3 L514.2,1381.4 L516.6,1380.8 L519.0,1380.7 L521.8,1381.2 L524.4,1382.5 L526.9,1384.0 L529.4,1385.5 L531.7,1386.6 L534.0,1387.0 L536.5,1386.2 L538.7,1384.4 L540.9,1382.2 L543.3,1380.3 L546.0,1379.3 L548.3,1379.2 L550.9,1379.6 L553.6,1380.2 L556.3,1380.9 L559.0,1381.8 L561.6,1382.5 L564.0,1383.2 L566.7,1383.9 L569.0,1384.6 L571.2,1385.3 L573.7,1385.9 L577.0,1386.2 L579.0,1386.3 L581.2,1386.2 L583.5,1386.1 L586.0,1385.9 L588.6,1385.7 L591.2,1385.5 L593.9,1385.3 L596.6,1385.1 L599.3,1385.0 L602.0,1385.0 L604.5,1385.0 L607.1,1385.1 L609.8,1385.3 L612.6,1385.5 L615.4,1385.8 L618.1,1386.0 L620.8,1386.2 L623.4,1386.4 L625.8,1386.5 L628.0,1386.6 L630.0,1386.5 L633.5,1385.9 L636.2,1384.9 L638.4,1383.7 L640.5,1382.9 L643.0,1382.7 L644.6,1383.2 L645.2,1384.2 L645.9,1385.4 L647.6,1386.7 L651.4,1388.6 L658.3,1389.0 L659.9,1389.4 L661.5,1389.9 L663.3,1390.4 L665.3,1390.8 L667.3,1390.9 L669.4,1390.7 L671.6,1390.4 L673.9,1390.1 L676.3,1390.0 L678.8,1390.0 L681.3,1390.0 L683.9,1389.9 L686.6,1389.9 L689.3,1390.2 L692.1,1390.8 L694.9,1391.3 L697.7,1391.5 L700.6,1391.4 L703.4,1391.2 L706.3,1391.2 L709.2,1391.2 L712.2,1391.1 L715.1,1391.0 L718.0,1391.1 L720.9,1391.4 L723.7,1391.7 L726.6,1391.9 L729.4,1391.9 L732.1,1392.0 L734.9,1392.4 L737.5,1392.9 L740.2,1393.1 L742.7,1393.0 L745.2,1392.8 L747.6,1392.7 L750.4,1392.9 L753.1,1393.1 L755.9,1393.0 L758.6,1392.7 L761.4,1392.2 L764.1,1391.9 L766.9,1392.0 L769.6,1392.1 L772.3,1392.0 L775.0,1391.7 L777.7,1391.6 L780.3,1391.5 L783.0,1391.6 L785.6,1391.6 L788.2,1391.5 L790.8,1391.5 L793.4,1391.7 L796.0,1392.1 L798.5,1392.4 L801.0,1392.2 L803.4,1391.6 L805.9,1390.9 L808.3,1390.4 L810.6,1390.4 L813.0,1390.8 L815.3,1391.2 L817.5,1391.4 L819.8,1391.4 L822.0,1391.2 L824.1,1390.9 L827.3,1390.6 L830.4,1390.4 L833.4,1390.0 L836.3,1389.4 L839.3,1388.6 L842.1,1387.9 L844.9,1387.3 L847.6,1386.8 L850.2,1386.5 L852.8,1386.5 L855.3,1386.6 L857.8,1386.4 L860.2,1385.9 L862.5,1385.0 L864.8,1384.2 L867.0,1383.6 L869.1,1383.4 L871.2,1383.5 L873.2,1383.6 L875.1,1383.4 L878.6,1382.3 L881.8,1380.8 L884.5,1379.9 L886.9,1379.5 L889.2,1379.3 L891.3,1379.0 L893.4,1378.5 L895.4,1377.8 L897.6,1377.0 L900.0,1376.3 L902.5,1375.8 L905.0,1375.3 L907.5,1374.7 L910.0,1374.0 L912.5,1373.1 L914.9,1372.3 L917.4,1371.6 L919.9,1370.9 L922.4,1370.2 L924.9,1369.2 L927.4,1368.1 L929.9,1366.9 L932.3,1365.7 L934.8,1364.5 L937.3,1363.2 L939.8,1362.0 L942.3,1362.0 L944.7,1360.9 L947.2,1359.9 L949.7,1358.9 L952.2,1357.9 L954.7,1356.9 L957.2,1356.0 L959.7,1355.0 L962.1,1354.1 L964.6,1353.1 L967.1,1352.1 L969.6,1351.1 L972.1,1350.1 L974.6,1349.0 L977.1,1347.9 L979.6,1346.8 L982.1,1345.6 L984.6,1344.5 L987.0,1343.3 L989.5,1342.1 L992.0,1340.9 L994.5,1339.7 L997.0,1338.6 L999.5,1337.4 L1002.0,1336.3 L1004.5,1335.1 L1007.1,1334.0 L1009.6,1332.9 L1012.2,1331.8 L1014.7,1330.7 L1017.2,1329.5 L1019.6,1328.3 L1022.0,1327.1 L1024.4,1325.8 L1026.7,1324.4 L1029.0,1323.0 L1031.3,1321.5 L1033.5,1320.0 L1035.7,1318.5 L1037.8,1317.0 L1039.9,1315.4 L1042.0,1313.8 L1044.0,1312.3 L1045.9,1310.8 L1048.2,1308.9 L1050.4,1307.0 L1052.5,1305.1 L1054.5,1303.2 L1056.5,1301.4 L1058.5,1299.5 L1060.5,1297.7 L1062.5,1295.9 L1064.7,1294.1 L1066.9,1292.2 L1069.2,1290.4 L1071.5,1288.5 L1073.7,1286.8 L1075.8,1285.2 L1077.6,1283.8 L1079.1,1282.6 L1081.9,1281.0 L1084.0,1279.3 L1085.3,1277.7 L1086.8,1275.7 L1088.5,1273.5 L1090.2,1271.0 L1092.0,1268.6 L1093.9,1266.4 L1095.7,1264.4 L1097.8,1262.5 L1100.0,1260.8 L1102.3,1259.2 L1104.6,1257.7 L1106.8,1256.2 L1108.9,1254.5 L1110.8,1252.8 L1112.4,1251.3 L1113.9,1249.7 L1115.7,1247.9 L1117.8,1245.7 L1120.5,1242.9 L1121.9,1241.4 L1123.5,1239.8 L1125.2,1238.0 L1127.0,1236.1 L1129.0,1234.1 L1131.0,1232.0 L1133.0,1229.9 L1135.0,1227.8 L1137.0,1225.7 L1139.0,1223.7 L1140.9,1221.7 L1142.7,1219.8 L1144.4,1218.1 L1145.9,1216.5 L1148.3,1214.1 L1150.3,1212.1 L1152.1,1210.3 L1153.8,1208.6 L1155.5,1207.0 L1157.2,1205.3 L1159.1,1203.4 L1161.2,1201.2 L1162.8,1199.6 L1164.4,1197.8 L1166.1,1196.0 L1167.9,1194.1 L1169.7,1192.2 L1171.5,1190.2 L1173.3,1188.2 L1175.2,1186.2 L1176.9,1184.3 L1178.7,1182.3 L1180.3,1180.5 L1181.9,1178.7 L1183.9,1176.4 L1185.8,1174.2 L1187.6,1172.0 L1189.3,1169.9 L1191.0,1167.8 L1192.7,1165.7 L1194.4,1163.7 L1196.1,1161.6 L1197.8,1159.6 L1199.6,1157.6 L1201.4,1155.6 L1203.1,1153.6 L1204.9,1151.6 L1206.7,1149.6 L1208.5,1147.7 L1210.2,1145.8 L1212.0,1143.9 L1213.8,1142.1 L1215.8,1140.1 L1217.8,1138.1 L1219.8,1136.1 L1221.8,1134.2 L1223.7,1132.3 L1225.7,1130.4 L1227.7,1128.6 L1229.7,1126.9 L1231.7,1125.3 L1233.7,1123.7 L1235.7,1122.2 L1237.7,1120.7 L1239.7,1119.3 L1241.7,1117.9 L1243.7,1116.4 L1245.7,1114.9 L1247.7,1113.3 L1249.7,1111.7 L1251.7,1110.0 L1253.6,1108.3 L1255.6,1106.6 L1257.6,1105.1 L1259.6,1103.6 L1261.6,1102.2 L1263.9,1100.9 L1266.2,1099.7 L1268.5,1098.7 L1270.7,1097.7 L1273.0,1096.7 L1275.3,1095.5 L1277.6,1094.2 L1279.6,1092.8 L1281.7,1091.3 L1283.8,1089.6 L1285.9,1088.0 L1288.0,1086.2 L1290.0,1084.6 L1291.8,1083.0 L1293.5,1081.5 L1295.8,1079.2 L1297.8,1077.0 L1299.6,1074.9 L1301.3,1073.2 L1303.1,1071.9 L1306.2,1071.6 L1309.2,1072.4 L1312.6,1071.9 L1314.5,1070.7 L1316.5,1069.1 L1318.6,1067.1 L1320.8,1065.0 L1323.0,1062.8 L1325.4,1060.7 L1327.2,1059.2 L1329.2,1057.6 L1331.1,1056.1 L1333.2,1054.5 L1335.2,1052.8 L1337.2,1051.2 L1339.3,1049.6 L1341.3,1048.0 L1343.3,1046.4 L1345.3,1044.8 L1347.3,1043.2 L1349.3,1041.6 L1351.3,1040.0 L1353.3,1038.4 L1355.3,1036.8 L1357.3,1035.2 L1359.4,1033.6 L1361.5,1031.8 L1363.7,1030.1 L1365.8,1028.4 L1367.9,1026.7 L1369.9,1025.1 L1371.6,1023.7 L1373.2,1022.5 L1375.9,1020.4 L1377.7,1019.1 L1380.0,1017.4 L1381.7,1016.1 L1383.5,1014.5 L1385.5,1012.8 L1387.6,1011.2 L1389.8,1009.6 L1392.1,1008.3 L1394.5,1007.2 L1397.1,1006.2 L1399.8,1005.4 L1402.6,1004.6 L1405.4,1003.9 L1408.3,1003.2 L1410.8,1002.6 L1413.5,1002.0 L1416.2,1001.3 L1418.9,1000.8 L1421.5,1000.4 L1424.1,1000.2 L1426.5,1000.2 L1429.6,1000.7 L1432.6,1001.6 L1435.4,1002.8 L1438.1,1004.1 L1440.6,1005.3 L1443.5,1006.6 L1446.0,1007.9 L1448.4,1009.4 L1450.7,1011.3 L1452.4,1013.3 L1454.1,1015.7 L1455.7,1018.2 L1457.2,1020.5 L1458.8,1022.4 L1461.3,1023.7 L1463.8,1024.2 L1466.9,1026.5 L1468.2,1028.0 L1469.7,1029.9 L1471.2,1032.0 L1472.9,1034.3 L1474.5,1036.7 L1476.2,1039.2 L1477.9,1041.8 L1479.5,1044.3 L1481.0,1046.7 L1482.3,1048.8 L1483.5,1050.9 L1484.8,1053.1 L1486.0,1055.2 L1487.2,1057.4 L1488.3,1059.6 L1489.5,1061.9 L1490.7,1064.2 L1491.9,1066.5 L1493.1,1068.9 L1494.2,1071.0 L1495.2,1073.0 L1496.1,1075.0 L1497.1,1077.0 L1498.1,1079.0 L1499.1,1081.1 L1500.1,1083.4 L1501.2,1085.9 L1502.5,1088.6 L1503.8,1091.7 L1505.3,1095.2 L1506.1,1097.0 L1506.9,1099.0 L1507.8,1101.1 L1508.7,1103.3 L1509.7,1105.6 L1510.7,1108.0 L1511.8,1110.5 L1512.8,1113.0 L1513.9,1115.6 L1515.0,1118.3 L1516.1,1120.9 L1517.2,1123.6 L1518.3,1126.2 L1519.3,1128.9 L1520.4,1131.5 L1521.4,1134.1 L1522.5,1136.6 L1523.4,1139.1 L1524.4,1141.5 L1525.3,1143.8 L1526.2,1146.0 L1527.0,1148.0 L1527.7,1150.0 L1528.9,1153.2 L1530.0,1156.2 L1530.9,1159.0 L1531.8,1161.6 L1532.5,1164.0 L1533.3,1166.4 L1533.9,1168.6 L1534.6,1170.8 L1535.2,1173.0 L1535.9,1175.2 L1536.5,1177.5 L1537.2,1179.8 L1538.0,1182.2 L1538.8,1184.7 L1539.6,1187.2 L1540.4,1189.6 L1541.1,1192.1 L1541.9,1194.6 L1542.7,1197.0 L1543.5,1199.5 L1544.2,1202.0 L1545.0,1204.5 L1545.8,1207.0 L1546.6,1209.5 L1547.5,1212.0 L1548.3,1214.5 L1549.1,1216.9 L1549.9,1219.2 L1550.7,1221.6 L1551.5,1224.1 L1552.3,1226.5 L1553.2,1228.9 L1554.0,1231.3 L1554.9,1233.8 L1555.7,1236.2 L1556.5,1238.6 L1557.4,1241.0 L1558.2,1243.3 L1559.1,1245.7 L1559.9,1248.0 L1560.8,1250.5 L1561.7,1252.9 L1562.6,1255.3 L1563.5,1257.7 L1564.4,1260.0 L1565.3,1262.4 L1566.1,1264.7 L1567.0,1267.0 L1567.9,1269.4 L1568.8,1271.7 L1569.7,1274.1 L1570.6,1276.5 L1571.5,1278.9 L1572.4,1281.3 L1573.3,1283.8 L1574.2,1286.3 L1575.0,1288.8 L1575.9,1291.3 L1576.8,1293.9 L1577.7,1296.4 L1578.5,1298.9 L1579.4,1301.4 L1580.3,1303.9 L1581.2,1306.4 L1582.2,1308.8 L1583.1,1311.2 L1584.1,1313.8 L1585.2,1316.3 L1586.2,1318.8 L1587.3,1321.3 L1588.4,1323.8 L1589.5,1326.2 L1590.6,1328.7 L1591.7,1331.1 L1592.7,1333.5 L1593.8,1336.0 L1594.9,1338.4 L1596.0,1340.8 L1597.1,1343.2 L1598.2,1345.6 L1599.2,1348.0 L1600.3,1350.5 L1601.4,1352.9 L1602.5,1355.2 L1603.5,1357.6 L1604.6,1360.0 L1605.7,1362.3 L1606.7,1364.6 L1607.8,1366.9 L1608.9,1369.2 L1610.1,1371.7 L1611.2,1374.1 L1612.3,1376.6 L1613.4,1379.0 L1614.5,1381.4 L1615.6,1383.8 L1616.7,1386.1 L1617.9,1388.4 L1619.1,1390.7 L1620.4,1392.9 L1621.8,1395.0 L1623.4,1397.3 L1625.0,1399.5 L1626.7,1401.6 L1628.4,1403.6 L1630.2,1405.6 L1632.1,1407.6 L1634.0,1409.6 L1635.9,1411.6 L1637.9,1413.6 L1640.0,1415.6 L1641.8,1417.4 L1643.6,1419.2 L1645.5,1421.0 L1647.4,1422.9 L1649.4,1424.7 L1651.4,1426.6 L1653.5,1428.4 L1655.5,1430.2 L1657.6,1431.9 L1659.7,1433.5 L1661.7,1434.9 L1663.8,1436.3 L1666.0,1437.6 L1668.0,1438.8 L1669.9,1439.8 L1671.8,1440.8 L1673.7,1441.7 L1675.8,1442.5 L1678.0,1443.3 L1680.4,1444.0 L1683.1,1444.8 L1686.1,1445.7 L1689.6,1446.6 L1691.5,1447.1 L1693.5,1447.6 L1695.6,1448.1 L1697.9,1448.6 L1700.2,1449.1 L1702.6,1449.6 L1705.0,1450.2 L1707.5,1450.7 L1710.1,1451.2 L1712.8,1451.7 L1715.4,1452.3 L1718.1,1452.8 L1720.8,1453.3 L1723.6,1453.8 L1726.3,1454.3 L1729.0,1454.8 L1731.8,1455.2 L1734.5,1455.7 L1737.1,1456.1 L1739.8,1456.5 L1742.4,1456.9 L1744.9,1457.3 L1747.4,1457.7 L1749.7,1458.0 L1752.1,1458.3 L1754.3,1458.6 L1756.5,1458.9 L1758.7,1459.1 L1760.9,1459.4 L1763.1,1459.6 L1765.2,1459.9 L1767.4,1460.1 L1769.7,1460.3 L1771.9,1460.5 L1774.3,1460.7 L1776.7,1460.9 L1779.2,1461.1 L1781.7,1461.3 L1784.4,1461.5 L1787.3,1461.7 L1790.2,1461.9 L1793.3,1462.1 L1796.6,1462.3 L1800.0,1462.5 L1802.0,1462.6 L1804.0,1462.7 L1806.1,1462.9 L1808.2,1463.0 L1810.4,1463.1 L1812.6,1463.2 L1814.8,1463.4 L1817.1,1463.5 L1819.5,1463.6 L1821.8,1463.7 L1824.3,1463.8 L1826.7,1464.0 L1829.2,1464.1 L1831.7,1464.2 L1834.2,1464.3 L1836.8,1464.4 L1839.3,1464.6 L1841.9,1464.7 L1844.6,1464.8 L1847.2,1464.9 L1849.8,1465.0 L1852.5,1464.9 L1855.2,1465.0 L1857.8,1465.0 L1860.5,1465.1 L1863.2,1465.5 L1865.9,1465.9 L1868.6,1466.2 L1871.3,1466.2 L1873.9,1466.0 L1876.6,1466.1 L1879.3,1466.4 L1881.9,1466.9 L1884.6,1467.1 L1887.2,1467.0 L1889.8,1466.8 L1892.4,1466.8 L1894.9,1467.0 L1897.5,1467.1 L1900.0,1467.0 L1902.5,1466.8 L1904.9,1466.6 L1907.4,1466.9 L1909.8,1467.5 L1912.1,1468.2 L1914.5,1468.5 L1916.8,1468.2 L1919.2,1467.6 L1921.5,1467.0 L1923.8,1466.9 L1926.1,1467.2 L1928.4,1467.7 L1930.6,1467.9 L1932.9,1467.8 L1935.2,1467.4 L1937.5,1467.0 L1939.8,1466.9 L1942.1,1467.4 L1944.4,1468.2 L1946.8,1469.1 L1949.1,1469.7 L1951.5,1470.0 L1953.8,1469.9 L1956.3,1469.6 L1958.7,1469.1 L1961.2,1468.8 L1963.6,1468.6 L1966.2,1468.8 L1968.7,1469.2 L1971.3,1469.5 L1974.0,1469.3 L1976.7,1468.6 L1979.4,1468.0 L1982.2,1468.1 L1985.0,1468.9 L1987.9,1469.8 L1990.8,1470.0 L1993.8,1469.4 L1996.9,1468.7 L2000.0,1468.8 L2002.1,1469.3 L2004.3,1470.0 L2006.6,1470.3 L2008.9,1470.3 L2011.3,1469.9 L2013.8,1469.5 L2016.3,1469.5 L2018.8,1469.6 L2021.4,1469.8 L2024.1,1469.9 L2026.8,1469.9 L2029.5,1469.9 L2032.3,1470.1 L2035.1,1470.1 L2037.9,1470.0 L2040.8,1469.9 L2043.7,1470.2 L2046.6,1470.6 L2049.5,1470.9 L2052.4,1470.6 L2055.4,1469.9 L2058.4,1469.4 L2061.4,1469.3 L2064.4,1469.6 L2067.3,1469.9 L2070.3,1470.0 L2073.3,1470.3 L2076.3,1470.8 L2079.3,1471.1 L2082.2,1470.9 L2085.2,1470.5 L2088.1,1470.2 L2091.0,1470.3 L2093.9,1470.4 L2096.8,1470.2 L2099.6,1470.0 L2102.5,1470.0 L2105.2,1470.5 L2108.0,1471.2 L2110.7,1471.6 L2113.3,1471.6 L2115.9,1471.2 L2118.5,1471.0 L2121.0,1471.0 L2123.5,1471.2 L2125.9,1471.3 L2128.2,1471.1 L2130.5,1470.8 L2132.7,1470.5 L2134.9,1470.5 L2136.9,1470.5 L2138.9,1470.6 L2140.9,1470.5 L2142.7,1470.3 L2144.5,1470.0 L2146.2,1469.9 L2147.8,1469.8 L2149.3,1469.9 L2150.7,1470.2 L2152.0,1470.4"/>
<path stroke="#ff00ff" d="M236.0,1357.5 L237.8,1358.1 L240.4,1359.1 L243.3,1360.2 L246.3,1361.1 L249.0,1361.6 L251.9,1361.4 L254.6,1360.6 L257.3,1360.0 L260.0,1360.3 L262.2,1361.7 L264.3,1363.8 L266.5,1366.3 L268.7,1368.5 L271.0,1370.2 L273.5,1371.2 L276.0,1371.8 L278.6,1372.2 L281.3,1372.4 L284.0,1372.4 L286.7,1372.1 L289.5,1371.3 L292.4,1370.5 L295.2,1370.0 L298.0,1370.2 L300.3,1371.1 L302.6,1372.5 L304.9,1374.2 L307.2,1375.9 L309.6,1377.4 L312.0,1378.5 L314.6,1379.1 L317.3,1379.4 L320.1,1379.6 L322.8,1379.5 L325.5,1379.3 L328.0,1379.1 L330.7,1378.4 L333.1,1377.3 L335.5,1376.2 L338.1,1375.4 L341.0,1375.3 L343.1,1375.8 L345.3,1376.7 L347.6,1377.9 L350.1,1379.2 L352.5,1380.5 L355.0,1381.7 L357.5,1382.6 L360.0,1383.0 L362.4,1382.9 L364.9,1382.4 L367.3,1381.6 L369.8,1380.6 L372.3,1379.7 L374.8,1378.9 L377.4,1378.4 L380.0,1378.3 L382.3,1378.7 L384.6,1379.5 L386.9,1380.5 L389.3,1381.7 L391.6,1383.0 L394.1,1384.2 L396.6,1385.3 L399.2,1386.1 L402.0,1386.6 L404.5,1386.7 L407.1,1386.6 L410.0,1386.4 L413.0,1386.0 L415.9,1385.5 L418.9,1385.0 L421.8,1384.5 L424.5,1384.1 L427.0,1383.7 L429.2,1383.5 L431.0,1383.4 L434.6,1384.4 L435.7,1386.2 L438.0,1387.4 L440.3,1387.5 L443.1,1387.2 L446.1,1386.9 L449.3,1386.5 L452.3,1386.2 L455.0,1386.1 L457.6,1386.2 L459.6,1386.5 L461.6,1386.8 L464.2,1387.4 L468.0,1388.0 L470.0,1388.3 L472.4,1388.8 L475.0,1389.3 L477.7,1389.8 L480.6,1390.4 L483.6,1391.0 L486.6,1391.6 L489.6,1392.1 L492.5,1392.5 L495.2,1392.9 L497.7,1393.1 L500.0,1393.2 L503.4,1393.0 L506.5,1392.3 L509.3,1391.4 L511.8,1390.4 L514.2,1389.5 L516.6,1388.9 L519.0,1388.7 L521.8,1389.3 L524.4,1390.5 L526.9,1392.1 L529.4,1393.6 L531.7,1394.7 L534.0,1395.1 L536.5,1394.3 L538.7,1392.5 L540.9,1390.3 L543.3,1388.4 L546.0,1387.4 L548.3,1387.4 L550.9,1387.7 L553.6,1388.3 L556.3,1389.1 L559.0,1389.9 L561.6,1390.7 L564.0,1391.3 L566.7,1392.0 L569.0,1392.8 L571.2,1393.5 L573.7,1394.1 L577.0,1394.4 L579.0,1394.4 L581.2,1394.4 L583.5,1394.2 L586.0,1394.0 L588.6,1393.8 L591.2,1393.6 L593.9,1393.4 L596.6,1393.3 L599.3,1393.2 L602.0,1393.2 L604.5,1393.3 L607.1,1393.6 L609.8,1393.9 L612.6,1394.3 L615.4,1394.7 L618.1,1395.0 L620.8,1395.4 L623.4,1395.7 L625.8,1395.9 L628.0,1396.0 L630.0,1395.9 L633.5,1395.0 L636.1,1393.5 L638.2,1391.7 L640.4,1390.3 L643.0,1389.8 L644.6,1390.2 L645.5,1391.0 L646.3,1392.1 L647.6,1393.5 L649.9,1394.8 L653.8,1395.9 L660.0,1396.6 L661.6,1396.9 L663.2,1397.1 L665.0,1397.3 L666.9,1397.5 L668.9,1397.6 L671.0,1397.6 L673.2,1397.6 L675.4,1397.5 L677.8,1397.5 L680.2,1397.6 L682.7,1398.0 L685.2,1398.6 L687.8,1398.9 L690.5,1398.9 L693.2,1398.7 L695.9,1398.5 L698.7,1398.9 L701.5,1399.5 L704.3,1400.1 L707.1,1400.1 L710.0,1399.8 L712.8,1399.7 L715.7,1400.1 L718.5,1400.8 L721.3,1401.2 L724.1,1401.0 L726.9,1400.6 L729.7,1400.2 L732.4,1400.0 L735.1,1400.0 L737.7,1399.8 L740.3,1399.6 L742.8,1399.7 L745.2,1399.9 L747.6,1400.4 L750.3,1400.9 L753.1,1401.0 L755.8,1400.8 L758.6,1400.6 L761.3,1400.4 L764.0,1400.4 L766.7,1400.2 L769.5,1400.0 L772.2,1400.0 L774.9,1400.1 L777.6,1400.3 L780.2,1400.5 L782.9,1400.5 L785.5,1400.4 L788.1,1400.5 L790.7,1400.8 L793.3,1401.2 L795.9,1401.3 L798.4,1401.1 L800.9,1400.8 L803.4,1400.6 L805.8,1400.7 L808.2,1400.8 L810.6,1400.7 L813.0,1400.3 L815.3,1399.8 L817.5,1399.4 L819.8,1399.1 L822.0,1399.0 L824.1,1399.0 L827.3,1398.7 L830.4,1398.2 L833.4,1397.7 L836.3,1397.5 L839.3,1397.2 L842.1,1396.9 L844.9,1396.4 L847.6,1396.1 L850.2,1396.1 L852.8,1396.2 L855.3,1395.9 L857.8,1395.1 L860.2,1394.1 L862.5,1393.1 L864.8,1392.6 L867.0,1392.4 L869.1,1392.5 L871.2,1392.7 L873.2,1392.6 L875.1,1392.4 L878.6,1391.7 L881.8,1391.1 L884.5,1390.7 L886.9,1390.3 L889.2,1389.8 L891.3,1389.2 L893.4,1388.6 L895.4,1387.9 L897.6,1387.2 L900.0,1386.4 L902.5,1385.7 L905.0,1385.2 L907.5,1384.9 L910.0,1384.8 L912.5,1384.5 L914.9,1383.8 L917.4,1382.8 L919.9,1381.5 L922.4,1380.6 L924.9,1380.1 L927.4,1380.0 L929.9,1379.7 L932.3,1378.8 L934.8,1377.5 L937.3,1376.0 L939.8,1374.9 L942.3,1374.9 L944.7,1374.0 L947.2,1373.1 L949.7,1372.2 L952.2,1371.3 L954.7,1370.3 L957.2,1369.4 L959.7,1368.4 L962.1,1367.4 L964.6,1366.4 L967.1,1365.4 L969.6,1364.3 L972.1,1363.3 L974.6,1362.2 L977.1,1361.1 L979.6,1360.0 L982.1,1358.8 L984.6,1357.7 L987.0,1356.5 L989.5,1355.3 L992.0,1354.1 L994.5,1352.9 L997.0,1351.8 L999.5,1350.6 L1002.0,1349.4 L1004.5,1348.3 L1007.1,1347.2 L1009.6,1346.0 L1012.2,1344.9 L1014.7,1343.8 L1017.2,1342.6 L1019.6,1341.4 L1022.0,1340.2 L1024.4,1339.0 L1026.7,1337.7 L1029.0,1336.4 L1031.3,1335.1 L1033.5,1333.8 L1035.7,1332.4 L1037.8,1331.0 L1039.9,1329.7 L1042.0,1328.4 L1044.0,1327.1 L1045.9,1325.8 L1048.2,1324.3 L1050.5,1322.8 L1052.6,1321.3 L1054.7,1319.8 L1056.7,1318.4 L1058.7,1316.9 L1060.6,1315.6 L1062.5,1314.2 L1065.0,1312.3 L1067.4,1310.3 L1069.8,1308.4 L1072.0,1306.6 L1074.0,1305.2 L1075.8,1304.2 L1079.4,1305.1 L1082.4,1305.9 L1083.8,1304.7 L1085.2,1302.9 L1086.7,1300.7 L1088.5,1298.3 L1090.7,1295.9 L1092.4,1294.3 L1094.5,1292.5 L1096.8,1290.6 L1099.1,1288.6 L1101.4,1286.8 L1103.7,1285.1 L1105.6,1283.6 L1107.3,1282.6 L1111.2,1282.4 L1113.9,1282.6 L1115.2,1280.9 L1116.4,1278.6 L1117.9,1275.8 L1120.5,1272.7 L1122.2,1271.2 L1124.2,1269.6 L1126.5,1267.9 L1129.0,1266.2 L1131.5,1264.4 L1134.0,1262.6 L1136.4,1260.9 L1138.6,1259.3 L1140.4,1257.8 L1142.9,1255.5 L1144.7,1253.5 L1146.2,1251.6 L1147.8,1249.6 L1150.0,1247.3 L1151.7,1245.7 L1153.5,1244.0 L1155.5,1242.2 L1157.5,1240.3 L1159.7,1238.5 L1161.8,1236.6 L1163.9,1234.7 L1165.9,1232.9 L1167.9,1231.1 L1169.9,1229.3 L1171.9,1227.5 L1173.9,1225.8 L1175.9,1224.0 L1177.9,1222.2 L1179.9,1220.4 L1181.9,1218.6 L1183.9,1216.8 L1185.9,1215.0 L1187.9,1213.1 L1189.9,1211.3 L1191.8,1209.5 L1193.8,1207.7 L1195.8,1205.9 L1197.8,1204.2 L1199.8,1202.5 L1201.8,1200.8 L1203.8,1199.2 L1205.8,1197.6 L1207.8,1196.0 L1209.8,1194.4 L1211.8,1192.9 L1213.8,1191.5 L1216.1,1190.0 L1218.3,1188.5 L1220.6,1187.2 L1222.9,1185.9 L1225.2,1184.6 L1227.4,1183.2 L1229.7,1181.9 L1232.0,1180.5 L1234.3,1179.2 L1236.6,1177.9 L1238.8,1176.5 L1241.1,1175.2 L1243.4,1173.8 L1245.7,1172.3 L1248.0,1170.8 L1250.2,1169.1 L1252.5,1167.4 L1254.8,1165.7 L1257.1,1164.1 L1259.3,1162.6 L1261.6,1161.2 L1264.3,1159.9 L1266.9,1158.8 L1269.6,1157.9 L1272.3,1157.0 L1274.9,1156.0 L1277.6,1154.8 L1279.9,1153.6 L1282.3,1152.2 L1284.8,1150.8 L1287.1,1149.4 L1289.4,1147.9 L1291.6,1146.5 L1293.5,1145.2 L1296.3,1142.9 L1298.7,1140.5 L1300.9,1138.6 L1303.1,1137.3 L1306.2,1137.5 L1309.2,1138.7 L1312.6,1138.9 L1314.5,1138.2 L1316.5,1137.1 L1318.6,1135.7 L1320.8,1134.2 L1323.0,1132.5 L1325.4,1130.9 L1327.5,1129.5 L1329.7,1127.9 L1332.0,1126.2 L1334.3,1124.5 L1336.7,1122.9 L1339.0,1121.2 L1341.3,1119.7 L1343.6,1118.2 L1345.9,1116.7 L1348.2,1115.2 L1350.4,1113.8 L1352.7,1112.5 L1355.0,1111.3 L1357.3,1110.2 L1359.9,1109.2 L1362.5,1108.3 L1365.1,1107.6 L1367.7,1107.0 L1370.4,1106.6 L1373.2,1106.2 L1375.8,1106.0 L1378.5,1105.9 L1381.3,1105.9 L1384.2,1105.9 L1387.0,1106.0 L1389.6,1106.2 L1392.1,1106.3 L1395.2,1106.5 L1397.9,1106.9 L1400.6,1107.3 L1403.3,1107.7 L1406.3,1108.3 L1408.7,1108.7 L1411.3,1109.1 L1414.0,1109.6 L1416.7,1110.1 L1419.4,1110.7 L1422.0,1111.4 L1424.4,1112.3 L1427.0,1113.6 L1429.5,1115.3 L1431.9,1117.0 L1434.2,1118.9 L1436.4,1120.7 L1438.6,1122.4 L1440.8,1123.9 L1442.9,1125.4 L1445.0,1126.8 L1447.0,1128.3 L1448.9,1129.8 L1450.7,1131.5 L1452.6,1133.9 L1454.2,1136.5 L1455.8,1139.2 L1457.2,1141.6 L1458.8,1143.6 L1461.3,1145.1 L1463.8,1145.7 L1466.9,1147.7 L1468.3,1149.1 L1469.8,1150.8 L1471.5,1152.6 L1473.2,1154.7 L1474.9,1156.9 L1476.6,1159.2 L1478.3,1161.7 L1480.0,1164.2 L1481.2,1166.1 L1482.4,1168.2 L1483.5,1170.3 L1484.7,1172.6 L1485.9,1174.9 L1487.0,1177.2 L1488.2,1179.6 L1489.4,1181.9 L1490.6,1184.2 L1491.7,1186.5 L1492.9,1188.7 L1494.2,1191.1 L1495.5,1193.4 L1496.8,1195.7 L1498.1,1197.9 L1499.4,1200.2 L1500.6,1202.5 L1501.9,1204.8 L1503.2,1207.1 L1504.5,1209.5 L1505.8,1211.9 L1507.0,1214.1 L1508.1,1216.4 L1509.3,1218.7 L1510.5,1221.0 L1511.7,1223.3 L1512.8,1225.7 L1514.0,1228.0 L1515.2,1230.4 L1516.4,1232.8 L1517.5,1235.3 L1518.7,1237.7 L1519.8,1240.0 L1520.9,1242.3 L1521.9,1244.6 L1523.0,1246.9 L1524.1,1249.2 L1525.2,1251.6 L1526.2,1254.0 L1527.3,1256.4 L1528.4,1258.8 L1529.5,1261.2 L1530.5,1263.6 L1531.6,1266.0 L1532.7,1268.4 L1533.8,1270.9 L1534.8,1273.4 L1535.9,1275.8 L1537.0,1278.3 L1538.0,1280.8 L1539.1,1283.3 L1540.2,1285.8 L1541.3,1288.3 L1542.3,1290.8 L1543.4,1293.3 L1544.5,1295.7 L1545.6,1298.1 L1546.7,1300.5 L1547.7,1302.9 L1548.8,1305.3 L1549.9,1307.7 L1551.0,1310.1 L1552.0,1312.4 L1553.1,1314.8 L1554.2,1317.1 L1555.2,1319.5 L1556.3,1321.8 L1557.4,1324.1 L1558.6,1326.6 L1559.7,1329.1 L1560.9,1331.6 L1562.1,1334.1 L1563.3,1336.6 L1564.4,1339.1 L1565.6,1341.5 L1566.8,1344.0 L1568.0,1346.4 L1569.1,1348.7 L1570.3,1351.1 L1571.5,1353.4 L1572.6,1355.8 L1573.8,1358.1 L1575.0,1360.4 L1576.1,1362.6 L1577.3,1364.9 L1578.4,1367.1 L1579.6,1369.3 L1580.8,1371.4 L1581.9,1373.5 L1583.1,1375.6 L1584.5,1378.1 L1586.0,1380.5 L1587.4,1382.9 L1588.8,1385.2 L1590.3,1387.5 L1591.7,1389.7 L1593.1,1392.0 L1594.6,1394.1 L1596.0,1396.3 L1597.6,1398.7 L1599.2,1401.1 L1600.8,1403.4 L1602.5,1405.7 L1604.1,1407.9 L1605.7,1410.1 L1607.3,1412.3 L1608.9,1414.3 L1610.7,1416.6 L1612.4,1418.7 L1614.2,1420.8 L1615.9,1422.8 L1617.7,1424.7 L1619.7,1426.6 L1621.8,1428.5 L1623.8,1430.1 L1625.8,1431.7 L1628.0,1433.3 L1630.2,1434.8 L1632.5,1436.2 L1634.9,1437.6 L1637.4,1438.9 L1640.0,1440.1 L1642.3,1441.0 L1644.4,1441.8 L1646.5,1442.5 L1648.7,1443.1 L1651.1,1443.7 L1653.7,1444.3 L1656.6,1444.9 L1660.0,1445.7 L1663.8,1446.6 L1665.7,1447.1 L1667.6,1447.6 L1669.6,1448.1 L1671.6,1448.7 L1673.7,1449.2 L1675.9,1449.8 L1678.1,1450.5 L1680.4,1451.1 L1682.7,1451.7 L1685.2,1452.4 L1687.7,1453.0 L1690.3,1453.6 L1693.0,1454.3 L1695.7,1454.9 L1698.6,1455.4 L1701.5,1456.0 L1704.6,1456.6 L1707.7,1457.1 L1710.9,1457.6 L1714.3,1458.0 L1716.3,1458.2 L1718.4,1458.5 L1720.5,1458.7 L1722.7,1458.9 L1724.9,1459.2 L1727.1,1459.4 L1729.4,1459.6 L1731.7,1459.8 L1734.1,1460.0 L1736.5,1460.1 L1738.9,1460.3 L1741.4,1460.5 L1743.9,1460.7 L1746.4,1460.8 L1748.9,1461.0 L1751.5,1461.2 L1754.1,1461.3 L1756.7,1461.5 L1759.3,1461.6 L1761.9,1461.7 L1764.6,1461.9 L1767.3,1462.0 L1770.0,1462.2 L1772.7,1462.3 L1775.4,1462.4 L1778.1,1462.5 L1780.8,1462.7 L1783.6,1462.8 L1786.3,1462.9 L1789.0,1463.0 L1791.8,1463.1 L1794.5,1463.3 L1797.3,1463.4 L1800.0,1463.5 L1802.3,1463.6 L1804.7,1463.7 L1807.0,1463.8 L1809.4,1463.9 L1811.8,1464.0 L1814.2,1464.0 L1816.6,1464.1 L1819.1,1464.2 L1821.5,1464.3 L1824.0,1464.4 L1826.5,1464.4 L1828.9,1464.5 L1831.4,1464.6 L1833.9,1464.6 L1836.5,1464.7 L1839.0,1464.8 L1841.5,1464.8 L1844.0,1464.9 L1846.6,1464.9 L1849.1,1465.0 L1851.7,1465.6 L1854.2,1465.0 L1856.8,1464.9 L1859.3,1465.3 L1861.9,1465.8 L1864.4,1466.0 L1867.0,1465.5 L1869.5,1464.9 L1872.1,1464.6 L1874.7,1464.9 L1877.2,1465.8 L1879.8,1466.5 L1882.3,1466.7 L1884.9,1466.3 L1887.4,1465.6 L1889.9,1465.2 L1892.5,1465.2 L1895.0,1465.4 L1897.5,1465.6 L1900.0,1465.7 L1902.5,1465.7 L1904.9,1465.8 L1907.4,1465.9 L1909.8,1465.9 L1912.1,1465.9 L1914.5,1465.9 L1916.8,1466.0 L1919.2,1466.3 L1921.5,1466.6 L1923.8,1466.8 L1926.1,1466.8 L1928.4,1466.6 L1930.6,1466.5 L1932.9,1466.6 L1935.2,1466.9 L1937.5,1467.2 L1939.8,1467.4 L1942.1,1467.3 L1944.4,1467.1 L1946.8,1466.9 L1949.1,1467.0 L1951.5,1467.1 L1953.8,1467.1 L1956.3,1466.9 L1958.7,1466.6 L1961.2,1466.5 L1963.6,1466.8 L1966.2,1467.5 L1968.7,1468.1 L1971.3,1468.0 L1974.0,1467.4 L1976.7,1466.6 L1979.4,1466.4 L1982.2,1466.8 L1985.0,1467.2 L1987.9,1467.2 L1990.8,1466.6 L1993.8,1466.1 L1996.9,1466.4 L2000.0,1467.4 L2002.1,1468.1 L2004.3,1468.7 L2006.6,1469.0 L2008.9,1469.0 L2011.3,1468.6 L2013.8,1468.1 L2016.3,1467.7 L2018.8,1467.5 L2021.4,1467.6 L2024.1,1467.9 L2026.8,1468.2 L2029.5,1468.0 L2032.3,1467.3 L2035.1,1466.7 L2037.9,1466.8 L2040.8,1467.6 L2043.7,1468.4 L2046.6,1468.5 L2049.5,1467.8 L2052.4,1467.1 L2055.4,1467.2 L2058.4,1468.0 L2061.4,1468.6 L2064.4,1468.6 L2067.3,1468.1 L2070.3,1467.8 L2073.3,1467.8 L2076.3,1468.0 L2079.3,1468.1 L2082.2,1468.1 L2085.2,1468.2 L2088.1,1468.3 L2091.0,1468.3 L2093.9,1468.2 L2096.8,1468.1 L2099.6,1468.4 L2102.5,1468.8 L2105.2,1469.0 L2108.0,1468.7 L2110.7,1468.0 L2113.3,1467.5 L2115.9,1467.4 L2118.5,1467.6 L2121.0,1467.8 L2123.5,1467.9 L2125.9,1468.1 L2128.2,1468.3 L2130.5,1468.6 L2132.7,1468.9 L2134.9,1469.1 L2136.9,1469.0 L2138.9,1468.7 L2140.9,1468.5 L2142.7,1468.3 L2144.5,1468.2 L2146.2,1468.2 L2147.8,1468.3 L2149.3,1468.4 L2150.7,1468.3 L2152.0,1468.2"/>
<path stroke="#808000" d="M236.0,1377.5 L237.8,1377.9 L240.4,1378.5 L243.3,1379.1 L246.3,1379.6 L249.0,1379.7 L251.9,1379.1 L254.6,1377.9 L257.3,1376.9 L260.0,1376.8 L262.2,1377.9 L264.3,1379.7 L266.5,1381.8 L268.7,1383.8 L271.0,1385.1 L273.5,1385.7 L276.0,1385.9 L278.6,1385.9 L281.3,1385.7 L284.0,1385.4 L286.7,1384.9 L289.5,1384.0 L292.4,1383.1 L295.2,1382.5 L298.0,1382.6 L300.3,1383.4 L302.6,1384.7 L304.9,1386.3 L307.2,1387.9 L309.6,1389.3 L312.0,1390.3 L314.6,1390.8 L317.3,1391.0 L320.1,1391.0 L322.8,1390.8 L325.5,1390.5 L328.0,1390.2 L330.7,1389.4 L333.1,1388.2 L335.5,1387.0 L338.1,1386.1 L341.0,1385.9 L343.1,1386.3 L345.3,1387.2 L347.6,1388.3 L350.1,1389.5 L352.5,1390.7 L355.0,1391.8 L357.5,1392.6 L360.0,1393.0 L362.4,1392.8 L364.9,1392.2 L367.3,1391.3 L369.8,1390.2 L372.3,1389.2 L374.8,1388.3 L377.4,1387.7 L380.0,1387.5 L382.3,1387.9 L384.6,1388.6 L386.9,1389.5 L389.3,1390.7 L391.6,1391.8 L394.1,1393.0 L396.6,1393.9 L399.2,1394.7 L402.0,1395.1 L404.5,1395.1 L407.1,1394.9 L410.0,1394.6 L413.0,1394.1 L415.9,1393.5 L418.9,1392.9 L421.8,1392.3 L424.5,1391.8 L427.0,1391.3 L429.2,1391.0 L431.0,1390.9 L434.6,1391.9 L435.7,1393.8 L438.0,1395.1 L440.3,1395.2 L443.1,1395.0 L446.1,1394.7 L449.3,1394.4 L452.3,1394.2 L455.0,1394.1 L457.6,1394.3 L459.6,1394.6 L461.6,1395.0 L464.2,1395.6 L468.0,1396.3 L469.9,1396.7 L472.0,1397.1 L474.4,1397.6 L476.9,1398.2 L479.5,1398.8 L482.2,1399.4 L485.0,1400.0 L487.8,1400.5 L490.5,1401.0 L493.1,1401.5 L495.6,1401.8 L497.9,1402.1 L500.0,1402.2 L503.4,1402.0 L506.5,1401.4 L509.3,1400.5 L511.8,1399.5 L514.2,1398.6 L516.6,1398.0 L519.0,1397.9 L521.8,1398.5 L524.4,1399.8 L526.9,1401.3 L529.4,1402.9 L531.7,1404.0 L534.0,1404.4 L536.5,1403.6 L538.7,1401.8 L540.9,1399.7 L543.3,1397.8 L546.0,1396.8 L548.3,1396.8 L550.9,1397.2 L553.6,1397.8 L556.3,1398.6 L559.0,1399.5 L561.6,1400.3 L564.0,1400.9 L566.7,1401.7 L569.0,1402.4 L571.2,1403.2 L573.7,1403.7 L577.0,1404.1 L579.0,1404.2 L581.2,1404.1 L583.5,1404.0 L586.0,1403.8 L588.6,1403.6 L591.2,1403.5 L593.9,1403.3 L596.6,1403.2 L599.3,1403.1 L602.0,1403.1 L604.5,1403.3 L607.1,1403.5 L609.8,1403.9 L612.6,1404.3 L615.4,1404.7 L618.1,1405.1 L620.8,1405.4 L623.4,1405.7 L625.8,1405.9 L628.0,1406.0 L630.0,1406.0 L633.5,1405.3 L636.2,1403.9 L638.4,1402.3 L640.5,1401.0 L643.0,1400.5 L644.6,1400.8 L645.2,1401.5 L645.9,1402.6 L647.6,1403.8 L651.4,1404.8 L658.3,1405.3 L659.9,1405.5 L661.5,1405.7 L663.3,1406.0 L665.3,1406.5 L667.3,1407.0 L669.4,1407.3 L671.6,1407.4 L673.9,1407.3 L676.3,1407.2 L678.8,1407.4 L681.3,1408.0 L683.9,1408.7 L686.6,1409.2 L689.3,1409.2 L692.1,1409.0 L694.9,1409.2 L697.7,1409.8 L700.6,1410.6 L703.4,1411.0 L706.3,1410.8 L709.2,1410.4 L712.2,1410.2 L715.1,1410.2 L718.0,1410.2 L720.9,1410.1 L723.7,1410.2 L726.6,1410.6 L729.4,1411.2 L732.1,1411.7 L734.9,1411.9 L737.5,1411.8 L740.2,1411.7 L742.7,1411.6 L745.2,1411.7 L747.6,1411.6 L750.4,1411.5 L753.1,1411.4 L755.9,1411.6 L758.6,1411.9 L761.4,1412.2 L764.1,1412.2 L766.9,1412.2 L769.6,1412.3 L772.3,1412.7 L775.0,1413.1 L777.7,1413.2 L780.3,1413.0 L783.0,1412.8 L785.6,1412.7 L788.2,1412.9 L790.8,1413.0 L793.4,1412.8 L796.0,1412.4 L798.5,1411.9 L801.0,1411.6 L803.4,1411.6 L805.9,1411.6 L808.3,1411.6 L810.6,1411.3 L813.0,1411.1 L815.3,1410.9 L817.5,1410.9 L819.8,1410.9 L822.0,1410.9 L824.1,1410.8 L827.3,1410.6 L830.4,1410.7 L833.4,1411.1 L836.3,1411.3 L839.3,1410.8 L842.1,1409.9 L844.9,1409.2 L847.6,1409.0 L850.2,1409.4 L852.8,1409.7 L855.3,1409.8 L857.8,1409.6 L860.2,1409.2 L862.5,1408.9 L864.8,1408.7 L867.0,1408.5 L869.1,1408.2 L871.2,1407.8 L873.2,1407.4 L875.1,1406.9 L878.6,1406.0 L881.6,1405.3 L884.2,1404.7 L886.5,1404.3 L888.7,1404.1 L890.7,1404.0 L892.7,1403.9 L894.9,1403.6 L897.3,1402.9 L900.0,1401.9 L902.3,1401.0 L904.7,1400.5 L907.1,1400.4 L909.6,1400.5 L912.2,1400.4 L914.8,1399.7 L917.4,1398.5 L920.1,1397.4 L922.7,1396.8 L925.4,1396.7 L928.0,1396.6 L930.6,1396.3 L933.2,1395.6 L935.7,1394.8 L938.3,1394.3 L940.8,1393.6 L943.4,1393.0 L945.9,1392.4 L948.5,1391.8 L951.0,1391.1 L953.6,1390.5 L956.1,1389.8 L958.7,1389.2 L961.2,1388.5 L963.8,1387.8 L966.3,1387.1 L968.9,1386.4 L971.4,1385.7 L974.0,1384.9 L976.5,1384.2 L979.1,1383.4 L981.6,1382.6 L984.2,1381.9 L986.7,1381.1 L989.3,1380.3 L991.8,1379.5 L994.4,1378.7 L996.9,1378.0 L999.5,1377.2 L1002.1,1376.4 L1004.8,1375.7 L1007.5,1374.9 L1010.2,1374.1 L1013.0,1373.3 L1015.7,1372.5 L1018.4,1371.7 L1021.1,1370.9 L1023.6,1370.2 L1026.1,1369.4 L1028.4,1368.6 L1030.6,1367.9 L1032.6,1367.2 L1035.9,1365.9 L1038.7,1364.6 L1041.2,1363.4 L1043.4,1362.2 L1045.4,1361.0 L1047.3,1359.9 L1049.2,1358.9 L1052.0,1357.3 L1054.3,1355.9 L1056.5,1354.6 L1059.2,1353.1 L1061.5,1351.8 L1064.0,1350.4 L1066.8,1348.8 L1069.4,1347.4 L1071.9,1346.3 L1074.1,1345.7 L1077.5,1346.5 L1080.1,1348.5 L1082.4,1349.0 L1083.5,1347.4 L1084.2,1344.7 L1085.2,1341.7 L1087.4,1339.0 L1089.3,1337.8 L1091.6,1336.5 L1094.4,1335.3 L1097.2,1334.0 L1100.2,1332.9 L1102.9,1331.9 L1105.3,1331.2 L1107.3,1330.7 L1111.5,1332.3 L1113.9,1334.0 L1115.1,1332.2 L1116.1,1329.1 L1118.9,1325.8 L1120.6,1324.8 L1122.6,1323.8 L1124.9,1322.8 L1127.4,1321.7 L1130.1,1320.7 L1132.8,1319.6 L1135.4,1318.4 L1138.0,1317.1 L1140.4,1315.8 L1142.5,1314.4 L1144.4,1313.0 L1146.2,1311.5 L1147.9,1309.9 L1149.7,1308.3 L1151.7,1306.6 L1154.0,1304.8 L1156.8,1302.9 L1160.0,1300.9 L1161.7,1299.9 L1163.5,1298.9 L1165.5,1297.9 L1167.4,1296.9 L1169.5,1295.8 L1171.7,1294.8 L1173.9,1293.7 L1176.2,1292.6 L1178.5,1291.5 L1180.9,1290.3 L1183.3,1289.1 L1185.8,1288.0 L1188.3,1286.8 L1190.9,1285.5 L1193.5,1284.3 L1196.1,1283.0 L1198.8,1281.7 L1201.4,1280.4 L1204.1,1279.1 L1206.2,1278.1 L1208.4,1276.9 L1210.6,1275.8 L1213.0,1274.6 L1215.4,1273.4 L1217.9,1272.1 L1220.4,1270.8 L1223.0,1269.5 L1225.5,1268.1 L1228.1,1266.8 L1230.7,1265.5 L1233.3,1264.1 L1235.9,1262.8 L1238.4,1261.5 L1240.9,1260.2 L1243.4,1259.0 L1245.8,1257.7 L1248.1,1256.6 L1250.4,1255.4 L1252.5,1254.3 L1254.6,1253.3 L1256.5,1252.4 L1258.4,1251.5 L1260.1,1250.7 L1261.6,1250.0 L1266.7,1247.9 L1270.0,1246.9 L1272.2,1246.5 L1273.8,1246.5 L1275.4,1246.3 L1277.6,1245.7 L1279.9,1244.7 L1282.3,1243.6 L1284.8,1242.4 L1287.1,1241.1 L1289.4,1239.9 L1291.6,1238.7 L1293.5,1237.7 L1296.3,1236.1 L1298.7,1234.8 L1300.9,1233.6 L1303.1,1232.9 L1306.2,1233.0 L1309.2,1233.7 L1312.6,1233.7 L1314.9,1233.0 L1317.3,1231.9 L1319.9,1230.6 L1322.6,1229.3 L1325.4,1228.2 L1327.8,1227.4 L1330.2,1226.7 L1332.7,1226.1 L1335.3,1225.4 L1338.2,1224.8 L1341.3,1224.2 L1343.6,1223.8 L1346.2,1223.3 L1349.0,1222.9 L1351.8,1222.5 L1354.7,1222.0 L1357.5,1221.7 L1360.3,1221.4 L1362.8,1221.1 L1365.2,1221.0 L1368.3,1221.0 L1371.0,1221.1 L1373.5,1221.4 L1375.9,1221.7 L1378.5,1222.1 L1381.2,1222.6 L1383.7,1223.0 L1386.3,1223.5 L1388.9,1224.1 L1391.5,1224.6 L1394.3,1225.2 L1397.2,1225.9 L1400.2,1226.5 L1402.7,1227.0 L1405.4,1227.5 L1408.2,1228.0 L1411.0,1228.5 L1413.9,1229.0 L1416.7,1229.6 L1419.5,1230.2 L1422.0,1230.8 L1424.4,1231.5 L1427.2,1232.5 L1429.7,1233.6 L1432.0,1234.8 L1434.2,1236.0 L1436.4,1237.3 L1438.5,1238.5 L1440.6,1239.6 L1443.1,1240.8 L1445.6,1242.0 L1448.0,1243.1 L1450.3,1244.2 L1452.5,1245.4 L1454.7,1246.7 L1457.1,1248.4 L1459.3,1250.1 L1461.4,1251.9 L1463.6,1253.9 L1466.0,1256.0 L1467.9,1257.6 L1469.8,1259.2 L1471.9,1260.9 L1473.9,1262.7 L1476.0,1264.6 L1478.0,1266.6 L1480.0,1268.6 L1481.7,1270.5 L1483.3,1272.5 L1484.9,1274.6 L1486.5,1276.7 L1488.1,1278.9 L1489.7,1281.1 L1491.3,1283.3 L1492.9,1285.4 L1494.5,1287.5 L1496.1,1289.6 L1497.7,1291.7 L1499.4,1293.8 L1501.0,1295.9 L1502.6,1298.0 L1504.2,1300.1 L1505.8,1302.1 L1507.4,1304.1 L1509.0,1306.0 L1510.6,1307.9 L1512.2,1309.8 L1513.9,1311.6 L1515.5,1313.6 L1517.1,1315.5 L1518.7,1317.6 L1520.3,1319.7 L1521.9,1321.9 L1523.5,1324.1 L1525.2,1326.4 L1526.8,1328.7 L1528.4,1331.0 L1530.0,1333.4 L1531.6,1335.7 L1533.0,1337.8 L1534.5,1340.0 L1535.9,1342.1 L1537.3,1344.3 L1538.8,1346.5 L1540.2,1348.7 L1541.6,1350.9 L1543.1,1353.0 L1544.5,1355.0 L1546.1,1357.2 L1547.7,1359.4 L1549.3,1361.5 L1551.0,1363.6 L1552.6,1365.6 L1554.2,1367.7 L1555.8,1369.7 L1557.4,1371.8 L1559.0,1373.9 L1560.6,1376.0 L1562.2,1378.1 L1563.9,1380.2 L1565.5,1382.2 L1567.1,1384.3 L1568.7,1386.4 L1570.3,1388.5 L1571.9,1390.6 L1573.5,1392.8 L1575.1,1394.9 L1576.7,1397.1 L1578.3,1399.2 L1579.9,1401.3 L1581.5,1403.3 L1583.1,1405.3 L1584.9,1407.5 L1586.8,1409.7 L1588.6,1411.8 L1590.5,1413.8 L1592.3,1415.8 L1594.2,1417.7 L1596.0,1419.5 L1598.2,1421.5 L1600.3,1423.3 L1602.5,1425.1 L1604.6,1426.7 L1606.7,1428.3 L1608.9,1429.8 L1611.0,1431.2 L1613.0,1432.6 L1615.0,1433.8 L1617.1,1435.0 L1619.3,1436.2 L1621.8,1437.5 L1624.2,1438.6 L1626.7,1439.8 L1629.4,1441.0 L1632.2,1442.2 L1634.9,1443.4 L1637.5,1444.4 L1640.0,1445.3 L1642.6,1446.1 L1644.9,1446.8 L1647.2,1447.3 L1649.5,1447.8 L1652.0,1448.4 L1654.8,1449.2 L1656.8,1449.8 L1658.7,1450.5 L1660.7,1451.3 L1662.7,1452.1 L1664.9,1452.9 L1667.3,1453.8 L1670.0,1454.5 L1673.0,1455.3 L1676.4,1456.0 L1678.3,1456.3 L1680.3,1456.7 L1682.3,1457.0 L1684.3,1457.4 L1686.4,1457.7 L1688.6,1458.0 L1690.8,1458.4 L1693.1,1458.7 L1695.6,1459.0 L1698.1,1459.3 L1700.7,1459.6 L1703.5,1459.9 L1706.4,1460.1 L1709.5,1460.4 L1712.7,1460.6 L1716.1,1460.9 L1719.6,1461.1 L1721.6,1461.2 L1723.6,1461.3 L1725.6,1461.4 L1727.7,1461.5 L1729.9,1461.6 L1732.1,1461.7 L1734.3,1461.8 L1736.6,1461.9 L1739.0,1462.0 L1741.3,1462.1 L1743.7,1462.1 L1746.2,1462.2 L1748.6,1462.3 L1751.1,1462.4 L1753.7,1462.4 L1756.2,1462.5 L1758.8,1462.6 L1761.5,1462.6 L1764.1,1462.7 L1766.8,1462.7 L1769.5,1462.8 L1772.2,1462.9 L1774.9,1462.9 L1777.6,1463.0 L1780.4,1463.0 L1783.2,1463.1 L1786.0,1463.1 L1788.8,1463.1 L1791.6,1463.2 L1794.4,1463.2 L1797.2,1463.3 L1800.0,1463.3 L1802.3,1463.3 L1804.6,1463.4 L1806.9,1463.4 L1809.2,1463.4 L1811.6,1463.4 L1813.9,1463.4 L1816.3,1463.5 L1818.7,1463.5 L1821.2,1463.5 L1823.6,1463.5 L1826.1,1463.5 L1828.6,1463.5 L1831.0,1463.5 L1833.6,1463.5 L1836.1,1463.5 L1838.6,1463.5 L1841.1,1463.5 L1843.7,1463.5 L1846.2,1463.5 L1848.8,1463.5 L1851.3,1462.9 L1853.9,1462.6 L1856.5,1463.0 L1859.1,1463.8 L1861.6,1464.5 L1864.2,1464.5 L1866.8,1463.9 L1869.4,1463.2 L1872.0,1462.8 L1874.5,1462.8 L1877.1,1463.0 L1879.7,1463.2 L1882.3,1463.2 L1884.8,1463.2 L1887.4,1463.2 L1889.9,1463.2 L1892.4,1463.2 L1895.0,1463.1 L1897.5,1463.1 L1900.0,1463.3 L1902.5,1463.7 L1904.9,1463.9 L1907.4,1463.8 L1909.8,1463.6 L1912.1,1463.5 L1914.5,1463.5 L1916.8,1463.8 L1919.2,1464.1 L1921.5,1464.2 L1923.8,1464.1 L1926.1,1463.9 L1928.4,1463.7 L1930.6,1463.7 L1932.9,1463.8 L1935.2,1463.9 L1937.5,1463.7 L1939.8,1463.3 L1942.1,1463.1 L1944.4,1463.3 L1946.8,1463.9 L1949.1,1464.5 L1951.5,1464.7 L1953.8,1464.4 L1956.3,1463.7 L1958.7,1463.1 L1961.2,1462.9 L1963.6,1463.3 L1966.2,1463.7 L1968.7,1463.8 L1971.3,1463.3 L1974.0,1462.7 L1976.7,1462.6 L1979.4,1463.1 L1982.2,1464.0 L1985.0,1465.0 L1987.9,1465.4 L1990.8,1465.3 L1993.8,1464.8 L1996.9,1464.2 L2000.0,1463.8 L2002.1,1463.8 L2004.3,1464.1 L2006.6,1464.4 L2008.9,1464.5 L2011.3,1464.2 L2013.8,1463.5 L2016.3,1463.0 L2018.8,1462.9 L2021.4,1463.6 L2024.1,1464.4 L2026.8,1464.9 L2029.5,1464.5 L2032.3,1463.7 L2035.1,1463.2 L2037.9,1463.6 L2040.8,1464.4 L2043.7,1464.9 L2046.6,1464.7 L2049.5,1464.2 L2052.4,1463.9 L2055.4,1464.0 L2058.4,1464.2 L2061.4,1464.2 L2064.4,1464.2 L2067.3,1464.3 L2070.3,1464.4 L2073.3,1464.4 L2076.3,1464.2 L2079.3,1464.3 L2082.2,1464.6 L2085.2,1465.0 L2088.1,1465.0 L2091.0,1464.4 L2093.9,1463.7 L2096.8,1463.4 L2099.6,1463.6 L2102.5,1463.8 L2105.2,1464.0 L2108.0,1464.1 L2110.7,1464.4 L2113.3,1464.8 L2115.9,1465.1 L2118.5,1465.0 L2121.0,1464.6 L2123.5,1464.3 L2125.9,1464.2 L2128.2,1464.2 L2130.5,1464.3 L2132.7,1464.2 L2134.9,1464.0 L2136.9,1463.8 L2138.9,1463.8 L2140.9,1464.1 L2142.7,1464.5 L2144.5,1464.9 L2146.2,1465.3 L2147.8,1465.5 L2149.3,1465.5 L2150.7,1465.3 L2152.0,1465.2"/>
</g>
<rect x="236.0" y="73.0" width="1914.0" height="1412.0" fill="none" stroke="#000" stroke-width="5.8"/>
<path d="M207.9,1485.0H236.0M222.9,1343.8H236.0M207.9,1202.6H236.0M222.9,1061.4H236.0M207.9,920.2H236.0M222.9,779.0H236.0M207.9,637.8H236.0M222.9,496.6H236.0M207.9,355.4H236.0M222.9,214.2H236.0M207.9,73.0H236.0M236.0,1485.0V1513.1M475.2,1485.0V1498.1M714.5,1485.0V1513.1M953.8,1485.0V1498.1M1193.0,1485.0V1513.1M1432.2,1485.0V1498.1M1671.5,1485.0V1513.1M1910.8,1485.0V1498.1M2150.0,1485.0V1513.1" stroke="#000" stroke-width="5.8" stroke-linecap="round"/>
<text x="187" y="1499.5" font-size="50" font-weight="bold" text-anchor="end">0.0</text>
<text x="187" y="1217.1" font-size="50" font-weight="bold" text-anchor="end">0.1</text>
<text x="187" y="934.7" font-size="50" font-weight="bold" text-anchor="end">0.2</text>
<text x="187" y="652.3" font-size="50" font-weight="bold" text-anchor="end">0.3</text>
<text x="187" y="369.9" font-size="50" font-weight="bold" text-anchor="end">0.4</text>
<text x="187" y="87.5" font-size="50" font-weight="bold" text-anchor="end">0.5</text>
<text x="236.0" y="1571" font-size="50" font-weight="bold" text-anchor="middle">400</text>
<text x="714.5" y="1571" font-size="50" font-weight="bold" text-anchor="middle">500</text>
<text x="1193.0" y="1571" font-size="50" font-weight="bold" text-anchor="middle">600</text>
<text x="1671.5" y="1571" font-size="50" font-weight="bold" text-anchor="middle">700</text>
<text x="2150.0" y="1571" font-size="50" font-weight="bold" text-anchor="middle">800</text>
<text transform="translate(88,844.5) rotate(-90)" font-size="76.4" font-weight="bold" text-anchor="middle">Absorbance (a.u)</text>
<g clip-path="url(#cxl)"><text x="1191" y="1661" font-size="75" font-weight="bold" text-anchor="middle">Wavelength(nm)</text></g>
<text x="997.5" y="197" font-size="69" font-weight="bold" text-anchor="middle">(A)</text>
<rect x="1690.5" y="96.5" width="437.8" height="511.8" fill="#fff" stroke="#222" stroke-width="2"/>
<path d="M1697,139.2H1855" stroke="#000000" stroke-width="7" stroke-linecap="round"/>
<text x="1872.5" y="164.5" font-size="72">0 min</text>
<path d="M1697,225.2H1855" stroke="#ff0000" stroke-width="7" stroke-linecap="round"/>
<text x="1872.5" y="250.5" font-size="72">25 min</text>
<path d="M1697,311.2H1855" stroke="#0000ff" stroke-width="7" stroke-linecap="round"/>
<text x="1872.5" y="336.5" font-size="72">50 min</text>
<path d="M1697,397.2H1855" stroke="#008080" stroke-width="7" stroke-linecap="round"/>
<text x="1872.5" y="422.5" font-size="72">75 min</text>
<path d="M1697,483.2H1855" stroke="#ff00ff" stroke-width="7" stroke-linecap="round"/>
<text x="1872.5" y="508.5" font-size="72">100 min</text>
<path d="M1697,569.2H1855" stroke="#808000" stroke-width="7" stroke-linecap="round"/>
<text x="1872.5" y="594.5" font-size="72">125 min</text>
<g clip-path="url(#cb)">
<path d="M237.5,1746.8 L617.4,1998.0 L997.2,2165.5 L1377.1,2291.0 L1757.0,2374.8 L2136.9,2444.6" fill="none" stroke="#000" stroke-width="7.4" stroke-linejoin="round"/>
<path d="M617.4,1970.1V1975.4M617.4,2025.9V2020.6M601.4,1970.1H633.4M601.4,2025.9H633.4M997.2,2123.6V2142.9M997.2,2207.3V2188.1M981.2,2123.6H1013.2M981.2,2207.3H1013.2M1377.1,2235.2V2268.4M1377.1,2346.9V2313.6M1361.1,2235.2H1393.1M1361.1,2346.9H1393.1M1757.0,2305.0V2352.2M1757.0,2444.6V2397.4M1741.0,2305.0H1773.0M1741.0,2444.6H1773.0M2136.9,2388.7V2422.0M2136.9,2500.4V2467.2M2120.9,2388.7H2152.9M2120.9,2500.4H2152.9" stroke="#111" stroke-width="2.4" fill="none"/>
<ellipse cx="237.5" cy="1746.8" rx="25.2" ry="22.6" fill="#000"/>
<ellipse cx="617.4" cy="1998.0" rx="25.2" ry="22.6" fill="#000"/>
<ellipse cx="997.2" cy="2165.5" rx="25.2" ry="22.6" fill="#000"/>
<ellipse cx="1377.1" cy="2291.0" rx="25.2" ry="22.6" fill="#000"/>
<ellipse cx="1757.0" cy="2374.8" rx="25.2" ry="22.6" fill="#000"/>
<ellipse cx="2136.9" cy="2444.6" rx="25.2" ry="22.6" fill="#000"/>
<path d="M237.5,1746.8 L617.4,2472.5 L997.2,2626.0 L1377.1,2709.7 L1757.0,2863.2 L2136.9,2933.0" fill="none" stroke="#000" stroke-width="7.4" stroke-linejoin="round"/>
<path d="M601.4,2444.6H633.4M601.4,2500.4H633.4M997.2,2584.1V2595.0M997.2,2667.8V2657.0M981.2,2584.1H1013.2M981.2,2667.8H1013.2M1377.1,2653.9V2678.7M1377.1,2765.5V2740.7M1361.1,2653.9H1393.1M1361.1,2765.5H1393.1M1757.0,2793.4V2832.2M1757.0,2933.0V2894.2M1741.0,2793.4H1773.0M1741.0,2933.0H1773.0M2136.9,2877.2V2902.0M2136.9,2988.8V2964.0M2120.9,2877.2H2152.9M2120.9,2988.8H2152.9" stroke="#111" stroke-width="2.4" fill="none"/>
<path d="M237.50,1719.30 L244.62,1738.85 L267.64,1738.85 L249.02,1750.94 L256.13,1770.50 L237.50,1758.41 L218.87,1770.50 L225.98,1750.94 L207.36,1738.85 L230.38,1738.85Z" fill="#fff" stroke="#000" stroke-width="3.8" stroke-linejoin="miter"/>
<path d="M617.38,2444.96 L624.49,2464.51 L647.52,2464.51 L628.89,2476.60 L636.01,2496.16 L617.38,2484.07 L598.74,2496.16 L605.86,2476.60 L587.23,2464.51 L610.26,2464.51Z" fill="#fff" stroke="#000" stroke-width="3.8" stroke-linejoin="miter"/>
<path d="M997.25,2598.47 L1004.37,2618.02 L1027.39,2618.02 L1008.77,2630.11 L1015.88,2649.66 L997.25,2637.58 L978.62,2649.66 L985.73,2630.11 L967.11,2618.02 L990.13,2618.02Z" fill="#fff" stroke="#000" stroke-width="3.8" stroke-linejoin="miter"/>
<path d="M1377.12,2682.20 L1384.24,2701.75 L1407.27,2701.75 L1388.64,2713.84 L1395.76,2733.39 L1377.12,2721.31 L1358.49,2733.39 L1365.61,2713.84 L1346.98,2701.75 L1370.01,2701.75Z" fill="#fff" stroke="#000" stroke-width="3.8" stroke-linejoin="miter"/>
<path d="M1757.00,2835.70 L1764.12,2855.25 L1787.14,2855.25 L1768.52,2867.34 L1775.63,2886.90 L1757.00,2874.81 L1738.37,2886.90 L1745.48,2867.34 L1726.86,2855.25 L1749.88,2855.25Z" fill="#fff" stroke="#000" stroke-width="3.8" stroke-linejoin="miter"/>
<path d="M2136.88,2905.48 L2143.99,2925.03 L2167.02,2925.03 L2148.39,2937.12 L2155.51,2956.67 L2136.88,2944.59 L2118.24,2956.67 L2125.36,2937.12 L2106.73,2925.03 L2129.76,2925.03Z" fill="#fff" stroke="#000" stroke-width="3.8" stroke-linejoin="miter"/>
</g>
<path d="M211.0,1719.0H2171.4M211.0,3142.5H2171.4" stroke="#000" stroke-width="7.2"/>
<path d="M215.0,1715.4V3146.1M2167.4,1715.4V3146.1" stroke="#000" stroke-width="8.0"/>
<path d="M184.4,3142.3H215.0M200.9,3002.8H215.0M184.4,2863.2H215.0M200.9,2723.7H215.0M184.4,2584.1H215.0M200.9,2444.6H215.0M184.4,2305.0H215.0M200.9,2165.5H215.0M184.4,2025.9H215.0M200.9,1886.4H215.0M184.4,1746.8H215.0" stroke="#000" stroke-width="6.8" stroke-linecap="round"/>
<path d="M237.5,3142.5V3169.2M427.4,3142.5V3154.9M617.4,3142.5V3169.2M807.3,3142.5V3154.9M997.2,3142.5V3169.2M1187.2,3142.5V3154.9M1377.1,3142.5V3169.2M1567.1,3142.5V3154.9M1757.0,3142.5V3169.2M1946.9,3142.5V3154.9M2136.9,3142.5V3169.2" stroke="#000" stroke-width="7.6" stroke-linecap="round"/>
<text transform="translate(164,3160.8) scale(1.070,1)" font-size="56.5" font-weight="bold" text-anchor="end">0</text>
<text transform="translate(164,2881.7) scale(1.070,1)" font-size="56.5" font-weight="bold" text-anchor="end">20</text>
<text transform="translate(164,2602.6) scale(1.070,1)" font-size="56.5" font-weight="bold" text-anchor="end">40</text>
<text transform="translate(164,2323.5) scale(1.070,1)" font-size="56.5" font-weight="bold" text-anchor="end">60</text>
<text transform="translate(164,2044.4) scale(1.070,1)" font-size="56.5" font-weight="bold" text-anchor="end">80</text>
<text transform="translate(164,1765.3) scale(1.070,1)" font-size="56.5" font-weight="bold" text-anchor="end">100</text>
<text transform="translate(237.5,3231.5) scale(1.070,1)" font-size="56.5" font-weight="bold" text-anchor="middle">0</text>
<text transform="translate(617.4,3231.5) scale(1.070,1)" font-size="56.5" font-weight="bold" text-anchor="middle">25</text>
<text transform="translate(997.2,3231.5) scale(1.070,1)" font-size="56.5" font-weight="bold" text-anchor="middle">50</text>
<text transform="translate(1377.1,3231.5) scale(1.070,1)" font-size="56.5" font-weight="bold" text-anchor="middle">75</text>
<text transform="translate(1757.0,3231.5) scale(1.070,1)" font-size="56.5" font-weight="bold" text-anchor="middle">100</text>
<text transform="translate(2136.9,3231.5) scale(1.070,1)" font-size="56.5" font-weight="bold" text-anchor="middle">125</text>
<text transform="translate(62,2453.4) scale(1.058,1) rotate(-90)" font-size="60.5" font-weight="bold" text-anchor="middle">Degradation(%)</text>
<text transform="translate(1178.3,3301) scale(1.100,1)" font-size="61" font-weight="bold" text-anchor="middle">time(min)</text>
<text transform="translate(1124.6,1836.3) scale(1.100,1)" font-size="74" font-weight="bold" text-anchor="middle">(B)</text>
<rect x="1806" y="1751" width="327.6" height="192.7" fill="#fff" stroke="#222" stroke-width="2"/>
<path d="M1816,1801.7H2002M1816,1892.8H2002" stroke="#000" stroke-width="6.5" stroke-linecap="round"/>
<ellipse cx="1909.1" cy="1801.7" rx="25.3" ry="23" fill="#000"/>
<path d="M1908.60,1866.10 L1915.52,1885.10 L1937.89,1885.10 L1919.79,1896.85 L1926.70,1915.85 L1908.60,1904.11 L1890.50,1915.85 L1897.41,1896.85 L1879.31,1885.10 L1901.68,1885.10Z" fill="#fff" stroke="#000" stroke-width="3.4"/>
<text transform="translate(2023,1827.5) scale(1.09,1)" font-size="77">(a)</text>
<text transform="translate(2023,1918.5) scale(1.09,1)" font-size="77">(b)</text>
</svg></body></html>
